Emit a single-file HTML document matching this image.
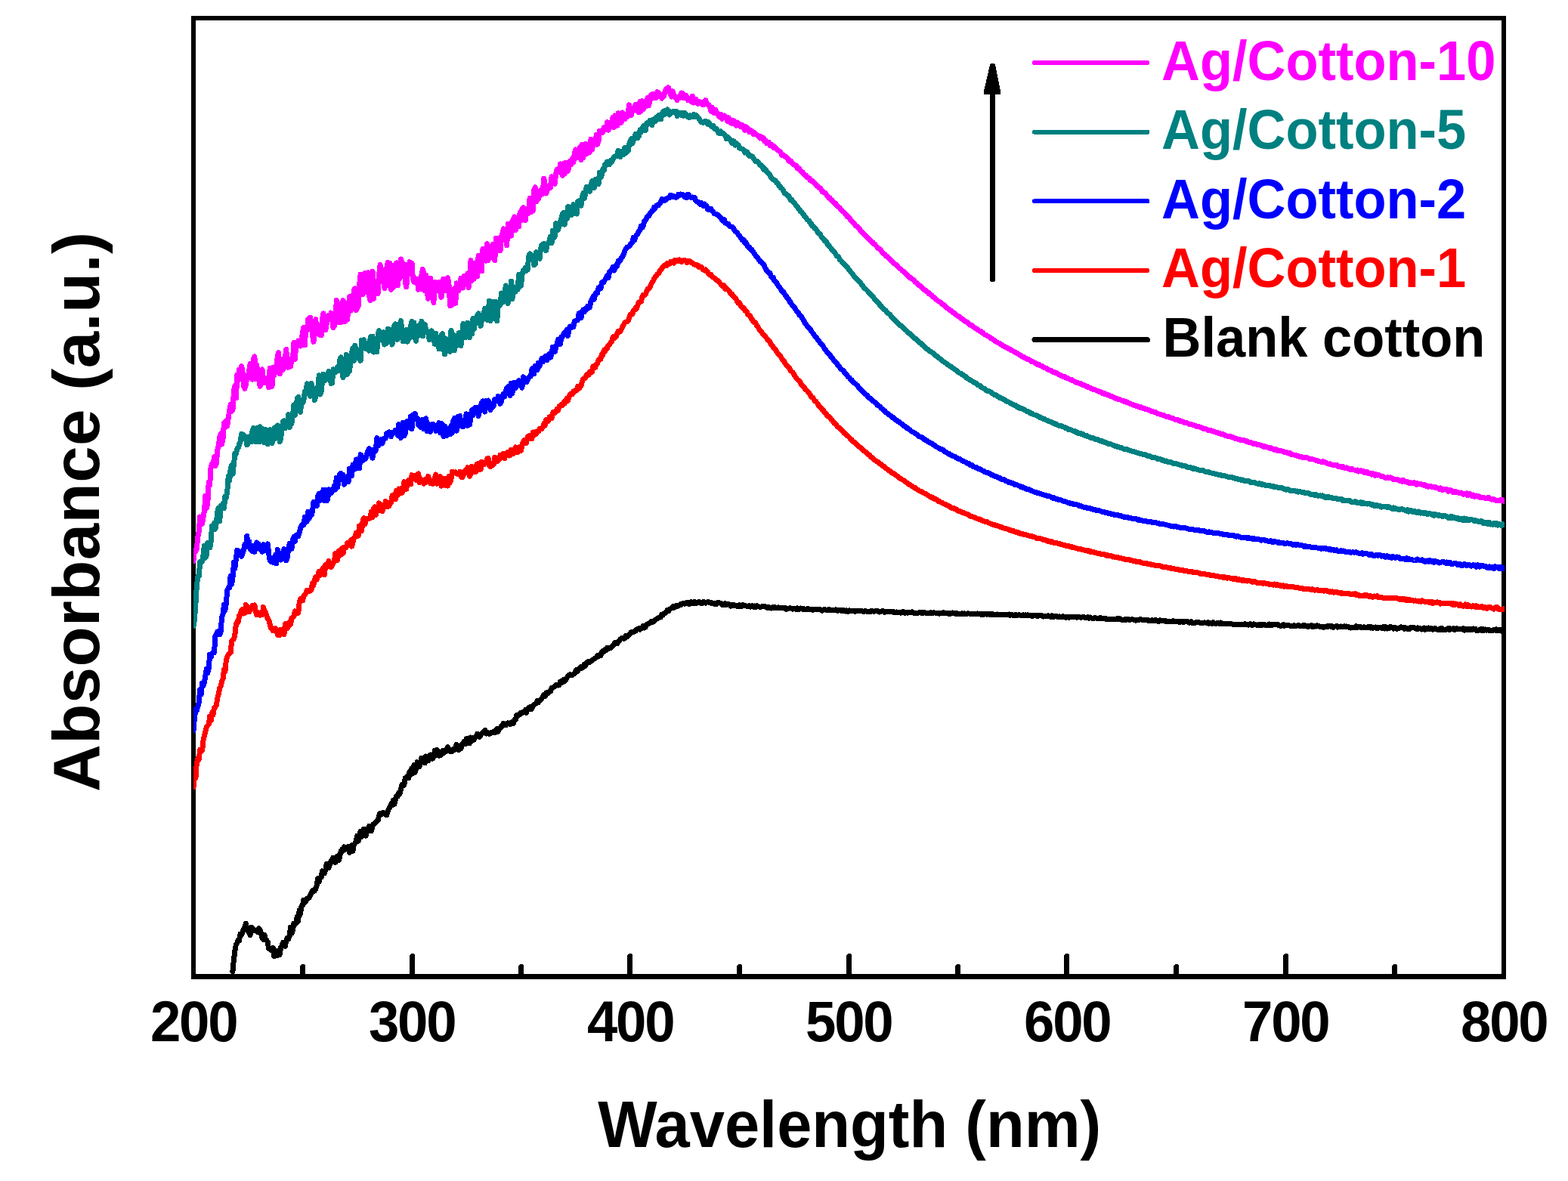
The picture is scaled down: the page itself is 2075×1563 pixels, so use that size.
<!DOCTYPE html>
<html lang="en">
<head>
<meta charset="utf-8">
<title>UV-vis absorbance spectra</title>
<style>
html,body{margin:0;padding:0;background:#fff;}
body{width:2075px;height:1563px;overflow:hidden;}
svg{display:block;}
text{font-family:"Liberation Sans",Arial,Helvetica,sans-serif;font-weight:bold;}
.tick{font-size:76px;text-anchor:middle;letter-spacing:-2.4px;}
.leg{font-size:75px;}
.ttl{font-size:87px;text-anchor:middle;}
.yt{letter-spacing:0.4px;}
.c{fill:none;stroke-width:7;shape-rendering:crispEdges;stroke-linejoin:round;stroke-linecap:round;}
</style>
</head>
<body>
<svg width="2075" height="1563" viewBox="0 0 2075 1563">
<rect x="0" y="0" width="2075" height="1563" fill="#fff"/>
<defs><clipPath id="plot"><rect x="256" y="24" width="1735" height="1268"/></clipPath></defs>
<path d="M253 20.7H1993V1295.9H253ZM259 27V1289.2H1987V27Z" fill="#000" fill-rule="evenodd" shape-rendering="crispEdges"/>
<g clip-path="url(#plot)">
<path class="c" stroke="#000" d="M307.9 1285.6 309.4 1270.3 310.8 1259 312.3 1250.3 313.7 1248.2 315.2 1244 316.6 1244.7 318 1236.1 319.5 1237.2 320.9 1234.2 322.4 1229.7 323.8 1227.1 325.3 1222.1 326.7 1228.6 328.2 1231.8 329.6 1234.8 331 1237.6 332.5 1227.1 333.9 1228.6 335.4 1231.3 336.8 1230.6 338.3 1231.3 339.7 1231.6 341.2 1233.6 342.6 1228.8 344.1 1230.7 345.5 1235 346.9 1241.5 348.4 1243.5 349.8 1237.2 351.3 1242 352.7 1244.5 354.2 1246.5 355.6 1255.6 357.1 1256.2 358.5 1257.2 359.9 1254.7 361.4 1254.7 362.8 1265.5 364.3 1264.6 365.7 1259 367.2 1264.6 368.6 1258.3 370.1 1263.7 371.5 1253.9 373 1251.7 374.4 1247.6 375.8 1251.5 377.3 1252.5 378.7 1245.7 380.2 1241.1 381.6 1242.9 383.1 1239 384.5 1227.4 386 1235.4 387.4 1231.8 388.8 1222.1 390.3 1223.2 391.7 1221.5 393.2 1213.3 394.6 1219.2 396.1 1204.9 397.5 1209.9 399 1199.3 400.4 1198.7 401.9 1191.3 403.3 1194.7 404.7 1192.4 406.2 1189.2 407.6 1188.8 409.1 1188.2 410.5 1185.2 412 1182.1 413.4 1178.5 414.9 1177.7 416.3 1179 417.7 1176.9 419.2 1172 420.6 1162.6 422.1 1167.2 423.5 1161.6 425 1161.4 426.4 1152.8 427.9 1156.1 429.3 1156 430.8 1151.2 432.2 1143.5 433.6 1146.1 435.1 1148.7 436.5 1143.8 438 1139.5 439.4 1141 440.9 1135.2 442.3 1140.1 443.8 1141.4 445.2 1135.6 446.6 1133.1 448.1 1138.8 449.5 1134.5 451 1127.2 452.4 1124.4 453.9 1126.2 455.3 1120.8 456.8 1124.3 458.2 1123.8 459.7 1121.8 461.1 1120.5 462.5 1128.3 464 1121.5 465.4 1118.9 466.9 1126.4 468.3 1118.3 469.8 1115.9 471.2 1113.7 472.7 1106.2 474.1 1113.4 475.5 1109.3 477 1100.6 478.4 1107.4 479.9 1104.3 481.3 1097.2 482.8 1097.3 484.2 1106.1 485.7 1097.8 487.1 1100 488.6 1093.1 490 1097.9 491.4 1099.8 492.9 1093.8 494.3 1090.6 495.8 1089.4 497.2 1088.7 498.7 1086.6 500.1 1085.8 501.6 1079.6 503 1076.2 504.4 1076.6 505.9 1077.3 507.3 1075.4 508.8 1076.9 510.2 1077.9 511.7 1078.9 513.1 1073.9 514.6 1070.2 516 1068.2 517.5 1064.3 518.9 1065.6 520.3 1059 521.8 1064.5 523.2 1058.8 524.7 1053.7 526.1 1054 527.6 1049.3 529 1050.9 530.5 1045.2 531.9 1038.5 533.3 1038.4 534.8 1039.1 536.2 1029.8 537.7 1029.8 539.1 1027.4 540.6 1029.8 542 1021.8 543.5 1025.5 544.9 1017.1 546.4 1023.8 547.8 1012.8 549.2 1022.3 550.7 1016.9 552.1 1008.6 553.6 1013.7 555 1014.7 556.5 1009.6 557.9 1003.3 559.4 1005.1 560.8 1003.2 562.2 1010 563.7 1001 565.1 1002.5 566.6 1006.7 568 1003.1 569.5 999 570.9 999.3 572.4 1004.2 573.8 1002.2 575.3 993.3 576.7 999.1 578.1 992.1 579.6 994.3 581 1000.3 582.5 997.8 583.9 999 585.4 993.7 586.8 996.6 588.3 993.5 589.7 994.5 591.1 991 592.6 988.6 594 991.6 595.5 994.2 596.9 994.6 598.4 994.7 599.8 991.4 601.3 992.3 602.7 989.3 604.2 985.4 605.6 990.8 607 992.5 608.5 990.2 609.9 990.6 611.4 984.6 612.8 984.3 614.3 981.1 615.7 984.7 617.2 977.7 618.6 981.8 620 977.4 621.5 983.9 622.9 976 624.4 980.6 625.8 976.8 627.3 978.9 628.7 975.5 630.2 974.1 631.6 971.2 633.1 974 634.5 975.1 635.9 973.2 637.4 970.5 638.8 969.9 640.3 968.8 641.7 966.4 643.2 971 644.6 969.2 646.1 970.3 647.5 971.4 648.9 970.6 650.4 969.3 651.8 969.6 653.3 968.2 654.7 969.8 656.2 966.2 657.6 964.3 659.1 968.2 660.5 964.6 662 963.8 663.4 961 664.8 961.2 666.3 957.4 667.7 959.8 669.2 960 670.6 957.6 672.1 956.8 673.5 957.8 675 958.7 676.4 956 677.8 957.5 679.3 957.5 680.7 952.9 682.2 952.5 683.6 946.8 685.1 947.4 686.5 945.7 688 945.5 689.4 943.3 690.9 943.6 692.3 942.4 693.7 942.6 695.2 939.7 696.6 943.3 698.1 938.3 699.5 936.5 701 938.4 702.4 935.2 703.9 938 705.3 934.2 706.7 932.7 708.2 931.6 709.6 930.6 711.1 927.3 712.5 929.7 714 927.6 715.4 925.8 716.9 924.7 718.3 921.9 719.8 919.7 721.2 921.4 722.6 917.3 724.1 916.1 725.5 917.1 727 915 728.4 915.2 729.9 910.6 731.3 910.1 732.8 909.3 734.2 908.7 735.6 906.7 737.1 906 738.5 907.1 740 906.4 741.4 901.8 742.9 901.6 744.3 902.9 745.8 899.7 747.2 901.3 748.7 900 750.1 897 751.5 895.2 753 893.4 754.4 892.7 755.9 893.9 757.3 893.4 758.8 892.4 760.2 891.5 761.7 888 763.1 886.5 764.5 888.2 766 885.4 767.4 884 768.9 882.6 770.3 884.1 771.8 882.5 773.2 879.1 774.7 881.4 776.1 877 777.6 876 779 875.9 780.4 876.2 781.9 875.2 783.3 873.9 784.8 872.8 786.2 872.1 787.7 871.2 789.1 870.2 790.6 867.6 792 868.5 793.4 867.3 794.9 867.6 796.3 863.1 797.8 861.6 799.2 862.6 800.7 859.8 802.1 860.7 803.6 857.2 805 858.9 806.5 857.7 807.9 858 809.3 856 810.8 854.8 812.2 853.6 813.7 850.5 815.1 850.3 816.6 851.6 818 849.8 819.5 848.2 820.9 845.7 822.3 845.2 823.8 844.1 825.2 845.4 826.7 844.6 828.1 841.1 829.6 842.8 831 841.7 832.5 839.5 833.9 838.3 835.4 836.5 836.8 836.9 838.2 836.3 839.7 835.6 841.1 835.3 842.6 832.8 844 832.8 845.5 831.6 846.9 833 848.4 830.9 849.8 831.2 851.2 828.6 852.7 830.9 854.1 830.1 855.6 826.6 857 826.1 858.5 825.3 859.9 825 861.4 822.9 862.8 823.7 864.3 822.1 865.7 822.2 867.1 820.4 868.6 819.4 870 818.5 871.5 817.8 872.9 816.7 874.4 816.9 875.8 813.2 877.3 814 878.7 811.9 880.1 811.4 881.6 809.8 883 807.8 884.5 808.8 885.9 806.9 887.4 805.6 888.8 805 890.3 802.9 891.7 804.5 893.2 802.1 894.6 801.6 896 802.6 897.5 801.8 898.9 801.3 900.4 799.7 901.8 800.2 903.3 798.5 904.7 798.4 906.2 799.2 907.6 798 909 797.5 910.5 797.6 911.9 799.5 913.4 799 914.8 796.8 916.3 798 917.7 798.6 919.2 796.4 920.6 798.6 922.1 797.4 923.5 797.7 924.9 796.3 926.4 796.9 927.8 798.3 929.3 798.4 930.7 796.6 932.2 796.9 933.6 798.1 935.1 797.1 936.5 796.6 937.9 796.6 939.4 797.7 940.8 797.4 942.3 798.8 943.7 798.2 945.2 799.4 946.6 798.6 948.1 799.4 949.5 797.5 951 797.7 952.4 797.9 953.8 798.5 955.3 799.2 956.7 800.9 958.2 800.2 959.6 798.9 961.1 800.8 962.5 799.6 964 799.4 965.4 800.3 966.8 802 968.3 800.7 969.7 801.2 971.2 800.7 972.6 801.7 974.1 801.1 975.5 802.2 977 802.2 978.4 800.8 979.9 802.8 981.3 802.5 982.7 800.7 984.2 800.8 985.6 801.7 987.1 801.9 988.5 802.3 990 802.2 991.4 801.7 992.9 803.1 994.3 802.8 995.7 801.6 997.2 803.3 998.6 802 1000.1 803.8 1001.5 801.8 1003 802.9 1004.4 802.9 1005.9 803.5 1007.3 803.2 1008.8 802.3 1010.2 802.9 1011.6 802.6 1013.1 802.9 1014.5 803.8 1016 804.9 1017.4 803.3 1018.9 804.7 1020.3 805.1 1021.8 804.5 1023.2 803.5 1024.6 804.5 1026.1 803.8 1027.5 804.7 1029 805 1030.4 803.9 1031.9 804.8 1033.3 804.1 1034.8 805 1036.2 804.4 1037.7 805.1 1039.1 804.7 1040.5 806.2 1042 805.3 1043.4 805.4 1044.9 804.9 1046.3 805 1047.8 805.3 1049.2 806.1 1050.7 805.2 1052.1 805.1 1053.5 806.5 1055 805 1056.4 806.6 1057.9 806.3 1059.3 804.9 1060.8 805.1 1062.2 806.2 1063.7 805.5 1065.1 806.8 1066.6 806.3 1068 806.5 1069.4 805.4 1070.9 806.4 1072.3 806.8 1073.8 806.3 1075.2 807.4 1076.7 806.5 1078.1 806.9 1079.6 806.9 1081 806.7 1082.4 806.7 1083.9 806.6 1085.3 806.3 1086.8 807.3 1088.2 808.2 1089.7 806.8 1091.1 806.7 1092.6 807.1 1094 807.5 1095.5 807.4 1096.9 806.6 1098.3 807.4 1099.8 807.5 1101.2 807 1102.7 807.6 1104.1 807.8 1105.6 806.9 1107 807.9 1108.5 808.4 1109.9 807.7 1111.3 807.7 1112.8 807.4 1114.2 808.7 1115.7 807.6 1117.1 807.7 1118.6 809 1120 807.9 1121.5 809.3 1122.9 809.3 1124.4 807.9 1125.8 808.6 1127.2 808.4 1128.7 808.5 1130.1 808 1131.6 809.2 1133 808.8 1134.5 808.3 1135.9 808.7 1137.4 808.2 1138.8 809 1140.2 808.9 1141.7 808.9 1143.1 809.8 1144.6 808.4 1146 808.9 1147.5 809.2 1148.9 809.1 1150.4 809.2 1151.8 809.9 1153.3 808.3 1154.7 808.6 1156.1 809.2 1157.6 809.1 1159 808.5 1160.5 809 1161.9 808.8 1163.4 810 1164.8 809.4 1166.3 809 1167.7 808.9 1169.1 808.8 1170.6 810.4 1172 809.5 1173.5 809.1 1174.9 809.8 1176.4 809.7 1177.8 809.7 1179.3 809.8 1180.7 809.4 1182.2 810.4 1183.6 809.9 1185 810.8 1186.5 809.9 1187.9 810.5 1189.4 810.8 1190.8 810.3 1192.3 811.1 1193.7 810.3 1195.2 809.5 1196.6 811.2 1198 811.1 1199.5 810.5 1200.9 811.2 1202.4 810.5 1203.8 811 1205.3 810.7 1206.7 809.9 1208.2 810.3 1209.6 811.2 1211.1 811.2 1212.5 811.2 1213.9 811.1 1215.4 811.2 1216.8 810.4 1218.3 810.2 1219.7 811.6 1221.2 810.5 1222.6 811.1 1224.1 810.8 1225.5 811.3 1226.9 811.6 1228.4 811.7 1229.8 812 1231.3 810.7 1232.7 811 1234.2 811.7 1235.6 810.8 1237.1 811 1238.5 811 1240 811.3 1241.4 811.7 1242.8 812.1 1244.3 811.8 1245.7 811.4 1247.2 811.7 1248.6 810.7 1250.1 811.3 1251.5 811.9 1253 811.1 1254.4 812.1 1255.8 811.2 1257.3 812.6 1258.7 811.7 1260.2 811 1261.6 811.2 1263.1 811.7 1264.5 812.4 1266 811.6 1267.4 812.6 1268.9 812.8 1270.3 812.4 1271.7 812.8 1273.2 811.8 1274.6 812.2 1276.1 811.9 1277.5 812.8 1279 812.6 1280.4 811.9 1281.9 812 1283.3 812 1284.7 812.8 1286.2 812.1 1287.6 813 1289.1 812.6 1290.5 812.6 1292 812.4 1293.4 812 1294.9 813 1296.3 812.3 1297.8 813.2 1299.2 812.2 1300.6 813.6 1302.1 812.6 1303.5 812.3 1305 813 1306.4 813.2 1307.9 812.3 1309.3 813.3 1310.8 812.4 1312.2 813.3 1313.6 812.6 1315.1 813.9 1316.5 813.6 1318 813.2 1319.4 813 1320.9 813.3 1322.3 813.3 1323.8 813.7 1325.2 813.7 1326.7 813.1 1328.1 813.6 1329.5 813.1 1331 813.9 1332.4 814 1333.9 813.6 1335.3 813 1336.8 814.4 1338.2 813.6 1339.7 813.9 1341.1 814.5 1342.5 814.3 1344 813.6 1345.4 814.4 1346.9 814.2 1348.3 813.7 1349.8 814.2 1351.2 814.3 1352.7 814.2 1354.1 813.8 1355.6 814.8 1357 813.7 1358.4 814.7 1359.9 813.8 1361.3 814.3 1362.8 814.2 1364.2 814.2 1365.7 815.5 1367.1 815.2 1368.6 814.1 1370 814.4 1371.4 814.7 1372.9 815.8 1374.3 814.6 1375.8 815 1377.2 814.7 1378.7 814.5 1380.1 816 1381.6 815.2 1383 815.1 1384.5 815.4 1385.9 815.2 1387.3 814.9 1388.8 815.5 1390.2 816.2 1391.7 814.9 1393.1 816.5 1394.6 816.5 1396 815.6 1397.5 815.2 1398.9 815.9 1400.3 816.5 1401.8 815.8 1403.2 816.8 1404.7 816.1 1406.1 815.7 1407.6 816.2 1409 816.1 1410.5 817.2 1411.9 816.2 1413.4 816.8 1414.8 817.3 1416.2 816.8 1417.7 816.1 1419.1 816.6 1420.6 817 1422 816.9 1423.5 816.2 1424.9 817.1 1426.4 816.8 1427.8 816.5 1429.2 816.9 1430.7 817.2 1432.1 817 1433.6 816.4 1435 817.2 1436.5 818 1437.9 817.6 1439.4 816.7 1440.8 818.1 1442.3 817 1443.7 818 1445.1 818.1 1446.6 818.7 1448 818 1449.5 817.6 1450.9 818 1452.4 818.6 1453.8 819 1455.3 817.7 1456.7 817.7 1458.1 818.8 1459.6 818.7 1461 818.6 1462.5 818.1 1463.9 819.5 1465.4 819.2 1466.8 819.6 1468.3 819.2 1469.7 819.1 1471.2 819.3 1472.6 819.6 1474 819.6 1475.5 819.4 1476.9 819.8 1478.4 818.7 1479.8 819.9 1481.3 818.6 1482.7 819.4 1484.2 820.3 1485.6 820.4 1487 820.2 1488.5 819.8 1489.9 820.7 1491.4 819.7 1492.8 819.2 1494.3 820.2 1495.7 820.3 1497.2 819.7 1498.6 819.8 1500.1 820.2 1501.5 820.8 1502.9 821.2 1504.4 820.9 1505.8 820.9 1507.3 820.6 1508.7 819.7 1510.2 820 1511.6 820.5 1513.1 820.6 1514.5 820.8 1515.9 820.3 1517.4 820.5 1518.8 820.2 1520.3 821.7 1521.7 821.6 1523.2 821.1 1524.6 820.5 1526.1 821.6 1527.5 821.9 1529 820.6 1530.4 821.5 1531.8 821.6 1533.3 822.5 1534.7 820.9 1536.2 821.1 1537.6 821.4 1539.1 821.7 1540.5 821.7 1542 821.2 1543.4 822.8 1544.8 822.2 1546.3 822.6 1547.7 822.3 1549.2 822.2 1550.6 822.8 1552.1 821.9 1553.5 822 1555 822.3 1556.4 822.7 1557.9 822.8 1559.3 822.6 1560.7 823.5 1562.2 822.9 1563.6 822.1 1565.1 823.2 1566.5 823.4 1568 822.5 1569.4 822.8 1570.9 822.7 1572.3 823 1573.7 824.1 1575.2 823.1 1576.6 822.8 1578.1 824.5 1579.5 824.6 1581 824 1582.4 824.1 1583.9 823.1 1585.3 823.1 1586.8 823.9 1588.2 824.1 1589.6 824.4 1591.1 824.2 1592.5 824.2 1594 823.8 1595.4 824.1 1596.9 824.6 1598.3 823.8 1599.8 825.3 1601.2 824.4 1602.6 825 1604.1 825.4 1605.5 823.9 1607 825 1608.4 825.1 1609.9 825.2 1611.3 824.5 1612.8 824.1 1614.2 825.8 1615.7 824.1 1617.1 825.6 1618.5 825.3 1620 825.8 1621.4 825 1622.9 825 1624.3 825.2 1625.8 825.1 1627.2 825.9 1628.7 825.5 1630.1 825.9 1631.5 826.2 1633 826.1 1634.4 826.2 1635.9 826.1 1637.3 826.2 1638.8 826.2 1640.2 826.9 1641.7 826.8 1643.1 826.3 1644.6 826.6 1646 826.8 1647.4 825.6 1648.9 826.5 1650.3 826.4 1651.8 827.1 1653.2 826.3 1654.7 825.6 1656.1 827.3 1657.6 827.3 1659 825.9 1660.4 826.2 1661.9 826.9 1663.3 827.4 1664.8 826.8 1666.2 827.6 1667.7 826.4 1669.1 827.6 1670.6 827.2 1672 826.4 1673.5 826.5 1674.9 827.4 1676.3 827.7 1677.8 827.4 1679.2 826.1 1680.7 827.8 1682.1 826.9 1683.6 827.3 1685 826.6 1686.5 827 1687.9 826.4 1689.3 826.4 1690.8 826.4 1692.2 827.6 1693.7 828.2 1695.1 828 1696.6 828 1698 826.7 1699.5 828.2 1700.9 827.6 1702.4 827.5 1703.8 827 1705.2 827.6 1706.7 828 1708.1 828.8 1709.6 828.7 1711 828.9 1712.5 827.6 1713.9 828.3 1715.4 828.1 1716.8 828.1 1718.2 827.3 1719.7 828.6 1721.1 828.7 1722.6 828.6 1724 828.5 1725.5 827.3 1726.9 827.8 1728.4 828.7 1729.8 828.7 1731.3 829.5 1732.7 828.8 1734.1 828 1735.6 827.8 1737 829.7 1738.5 829.5 1739.9 828.2 1741.4 829 1742.8 827.8 1744.3 828.9 1745.7 828.7 1747.1 829.4 1748.6 829.9 1750 829 1751.5 830.2 1752.9 829.8 1754.4 829.5 1755.8 828.8 1757.3 829.8 1758.7 828.2 1760.2 828.1 1761.6 829.7 1763 828.8 1764.5 830.5 1765.9 829 1767.4 829 1768.8 828.4 1770.3 830.2 1771.7 829.5 1773.2 829.7 1774.6 828.9 1776 829.4 1777.5 829.7 1778.9 828.7 1780.4 829.3 1781.8 829 1783.3 829.1 1784.7 829.8 1786.2 830.8 1787.6 831.1 1789.1 830.8 1790.5 830.4 1791.9 830.6 1793.4 830.1 1794.8 828.8 1796.3 830.5 1797.7 829.3 1799.2 829 1800.6 830.7 1802.1 830.5 1803.5 830.2 1804.9 829.9 1806.4 830.8 1807.8 830.6 1809.3 831 1810.7 829.6 1812.2 829.2 1813.6 831 1815.1 830 1816.5 831.4 1818 830.6 1819.4 830.3 1820.8 830 1822.3 831.8 1823.7 831.4 1825.2 830.2 1826.6 830.9 1828.1 831.2 1829.5 831.9 1831 829.8 1832.4 831.9 1833.8 829.8 1835.3 831.9 1836.7 830.6 1838.2 831.8 1839.6 829.7 1841.1 829.9 1842.5 830.3 1844 832 1845.4 830.3 1846.9 830.9 1848.3 832.3 1849.7 831.3 1851.2 831 1852.6 831.1 1854.1 829.9 1855.5 830.7 1857 830.9 1858.4 832.4 1859.9 830.8 1861.3 831.8 1862.7 832.4 1864.2 831.5 1865.6 832.2 1867.1 830.6 1868.5 830.3 1870 830.5 1871.4 830.5 1872.9 831 1874.3 832.4 1875.8 830.9 1877.2 832.1 1878.6 831.4 1880.1 832.1 1881.5 833.1 1883 832.1 1884.4 831.1 1885.9 833.2 1887.3 831.2 1888.8 832.6 1890.2 831.1 1891.6 832.6 1893.1 833 1894.5 831.8 1896 833.2 1897.4 832.1 1898.9 831.3 1900.3 832.5 1901.8 833 1903.2 833.5 1904.7 832.3 1906.1 833.7 1907.5 831.3 1909 833.3 1910.4 833.4 1911.9 833.2 1913.3 833.5 1914.8 832.7 1916.2 831.9 1917.7 833.8 1919.1 831.7 1920.5 832.8 1922 832.2 1923.4 831.5 1924.9 833.4 1926.3 833.2 1927.8 831.8 1929.2 832.6 1930.7 833 1932.1 832.2 1933.6 832.8 1935 832.4 1936.4 831.7 1937.9 834.1 1939.3 832.5 1940.8 832.1 1942.2 833.9 1943.7 832.6 1945.1 833.3 1946.6 832.7 1948 833.7 1949.4 832 1950.9 832.1 1952.3 832 1953.8 834.6 1955.2 834.4 1956.7 834.2 1958.1 833.8 1959.6 832.3 1961 834.6 1962.5 832.7 1963.9 834.4 1965.3 833 1966.8 834.1 1968.2 833.3 1969.7 833.3 1971.1 834.6 1972.6 834.3 1974 834.6 1975.5 834.6 1976.9 833.1 1978.3 834 1979.8 832.9 1981.2 834.8 1982.7 834 1984.1 833.1 1985.6 833.3 1987 835.2 1988.5 834.8 1989.9 835.1"/>
<path class="c" stroke="#f00" d="M256 1041.5 257.4 1028 258.9 1030 260.3 1010.3 261.8 1003.8 263.2 1005.4 264.7 992.1 266.1 994.6 267.6 993.5 269 980 270.4 973.7 271.9 968.3 273.3 962.3 274.8 960.2 276.2 958.8 277.7 948 279.1 953.9 280.6 943.5 282 946.2 283.5 936.7 284.9 935.7 286.3 933.2 287.8 923.9 289.2 918.5 290.7 910.8 292.1 908.3 293.6 901.5 295 898.6 296.5 885.8 297.9 889.1 299.3 874.2 300.8 869.1 302.2 866.1 303.7 864.8 305.1 864 306.6 848.3 308 847 309.5 845.6 310.9 839.3 312.4 826.3 313.8 822.9 315.2 823.3 316.7 814.3 318.1 813.1 319.6 807.7 321 806.2 322.5 812 323.9 811.5 325.4 800.6 326.8 801.9 328.2 804.9 329.7 809.7 331.1 805.3 332.6 806.5 334 801.1 335.5 801.8 336.9 801 338.4 809 339.8 813.7 341.3 810.5 342.7 813.3 344.1 814.3 345.6 813.2 347 813.8 348.5 803.4 349.9 807.9 351.4 810.6 352.8 814.8 354.3 818.9 355.7 820.6 357.1 826.3 358.6 831.5 360 831.1 361.5 834.9 362.9 833.2 364.4 831.7 365.8 834.6 367.3 839.9 368.7 841 370.2 840.7 371.6 833.1 373 834.4 374.5 837.6 375.9 839.8 377.4 825.5 378.8 825.2 380.3 831.7 381.7 828.5 383.2 823 384.6 826.2 386 817.8 387.5 816.9 388.9 815.2 390.4 808.8 391.8 812.5 393.3 809.6 394.7 811.3 396.2 797.3 397.6 792.7 399.1 793.2 400.5 794.8 401.9 788.8 403.4 787.1 404.8 785 406.3 781.2 407.7 781.7 409.2 782.5 410.6 781.9 412.1 780.6 413.5 771.6 414.9 774.8 416.4 766.7 417.8 763.6 419.3 767.2 420.7 762.2 422.2 756.1 423.6 761.3 425.1 755.6 426.5 753.4 428 751.5 429.4 760.9 430.8 747.4 432.3 750.2 433.7 745.1 435.2 742.5 436.6 750.1 438.1 750.6 439.5 747.9 441 745.8 442.4 742.5 443.8 732.6 445.3 738.2 446.7 741.2 448.2 729 449.6 728.9 451.1 734.4 452.5 725.9 454 732.4 455.4 724.1 456.9 725.3 458.3 723.8 459.7 718.5 461.2 720.5 462.6 719.4 464.1 714.9 465.5 723.1 467 718.2 468.4 712.3 469.9 711 471.3 705.1 472.7 709.8 474.2 709.2 475.6 696 477.1 701.7 478.5 702.7 480 690.2 481.4 685.7 482.9 693.9 484.3 686.8 485.8 686.6 487.2 686.8 488.6 686.6 490.1 684.7 491.5 677.2 493 684.6 494.4 673.3 495.9 671 497.3 681.4 498.8 674.3 500.2 676.2 501.6 665.9 503.1 669.7 504.5 671.7 506 676.9 507.4 668.6 508.9 671.1 510.3 663.4 511.8 670.5 513.2 669.7 514.7 670.1 516.1 667.2 517.5 665.2 519 655.9 520.4 658.6 521.9 654.6 523.3 660.9 524.8 649.3 526.2 655.4 527.7 647 529.1 653.4 530.5 646.7 532 652.2 533.4 647.3 534.9 637.8 536.3 638.3 537.8 647.4 539.2 638.1 540.7 635.5 542.1 640.6 543.6 640.7 545 628.8 546.4 629.8 547.9 629.5 549.3 633.9 550.8 635.8 552.2 630.6 553.7 626.9 555.1 638.8 556.6 633.8 558 634.9 559.4 638.1 560.9 640.1 562.3 638.8 563.8 634.2 565.2 637.2 566.7 630.4 568.1 636.2 569.6 639.9 571 639.5 572.5 640.2 573.9 637.2 575.3 633 576.8 628 578.2 640.1 579.7 639.7 581.1 632 582.6 630.6 584 643.1 585.5 634.4 586.9 640.8 588.3 633.1 589.8 642.4 591.2 638.1 592.7 643.1 594.1 630.3 595.6 638.7 597 633.9 598.5 624.1 599.9 625.6 601.4 625.3 602.8 624.9 604.2 627 605.7 627.4 607.1 627.7 608.6 624.3 610 630.4 611.5 631.8 612.9 629.2 614.4 627.5 615.8 622.6 617.2 624.2 618.7 618.8 620.1 620.5 621.6 630.5 623 626 624.5 617.3 625.9 624.9 627.4 624.9 628.8 617.8 630.3 624.2 631.7 613.9 633.1 618.6 634.6 613.5 636 621.4 637.5 611.3 638.9 614.3 640.4 614.8 641.8 612.4 643.3 611.8 644.7 606.9 646.1 606.8 647.6 616.7 649 617.5 650.5 615.4 651.9 615.6 653.4 614.1 654.8 605.3 656.3 608.3 657.7 610.6 659.2 609.3 660.6 608.3 662 602.1 663.5 605.3 664.9 602.9 666.4 600.3 667.8 606.6 669.3 600.1 670.7 599.5 672.2 598.2 673.6 603.1 675 602.4 676.5 595.1 677.9 599.5 679.4 600.2 680.8 598.9 682.3 591.8 683.7 598.9 685.2 598.7 686.6 595.6 688.1 591.2 689.5 596.2 690.9 589.2 692.4 584.9 693.8 582.7 695.3 586.9 696.7 585.6 698.2 578.1 699.6 577.1 701.1 580.6 702.5 576.2 703.9 580.7 705.4 572 706.8 575.9 708.3 571.9 709.7 574.2 711.2 571.2 712.6 571.1 714.1 567.4 715.5 567.8 717 567.7 718.4 564.9 719.8 560.8 721.3 563.2 722.7 555.7 724.2 557.8 725.6 557.3 727.1 551.7 728.5 553.5 730 553.7 731.4 546.6 732.8 545.1 734.3 546.2 735.7 544.4 737.2 541.3 738.6 543.4 740.1 537.6 741.5 537.7 743 535.6 744.4 536.6 745.9 532.7 747.3 534 748.7 529.9 750.2 527.4 751.6 530.4 753.1 525 754.5 521.7 756 521.8 757.4 521.9 758.9 517.8 760.3 518.5 761.7 516.9 763.2 516.8 764.6 511.2 766.1 514.1 767.5 512.5 769 510.2 770.4 504.9 771.9 501.2 773.3 500.8 774.8 500.1 776.2 496 777.6 496.7 779.1 496.2 780.5 491.9 782 492.3 783.4 492.4 784.9 484.9 786.3 485.1 787.8 486.3 789.2 482.4 790.6 480.7 792.1 476.2 793.5 474.8 795 475.1 796.4 468.8 797.9 469.4 799.3 463.5 800.8 465 802.2 460.6 803.7 460.8 805.1 456.8 806.5 456.5 808 453.4 809.4 452.3 810.9 446.8 812.3 445.2 813.8 447.1 815.2 445.6 816.7 441.1 818.1 438.7 819.5 439.3 821 438.7 822.4 435.7 823.9 432.2 825.3 429.8 826.8 427 828.2 426.2 829.7 425.7 831.1 424.9 832.6 420.9 834 416.7 835.4 415.4 836.9 415.7 838.3 411 839.8 410.5 841.2 407.2 842.7 408.2 844.1 402.8 845.6 400 847 399.3 848.4 399.3 849.9 393.1 851.3 390.5 852.8 390.6 854.2 389.8 855.7 385.5 857.1 382.2 858.6 382.5 860 380.6 861.5 376.5 862.9 373.9 864.3 372 865.8 368.5 867.2 366.4 868.7 364.7 870.1 362.6 871.6 362.1 873 359 874.5 356.6 875.9 355.4 877.3 352.8 878.8 352 880.2 350.8 881.7 351.7 883.1 348.2 884.6 350.1 886 349.3 887.5 346.3 888.9 347.6 890.4 347 891.8 348 893.2 344.3 894.7 345.9 896.1 344.8 897.6 345.8 899 343.9 900.5 345.2 901.9 346.5 903.4 345 904.8 344.9 906.2 344.4 907.7 345 909.1 347.4 910.6 345.2 912 345.4 913.5 346.1 914.9 347.5 916.4 347.9 917.8 349.8 919.3 350.3 920.7 350.5 922.1 350.4 923.6 351.4 925 353.4 926.5 353.9 927.9 353.3 929.4 355.3 930.8 357.3 932.3 357.5 933.7 356.9 935.1 359.2 936.6 360 938 362.7 939.5 363.7 940.9 363.4 942.4 366.3 943.8 367.1 945.3 368 946.7 369.2 948.2 371.1 949.6 371 951 372 952.5 374.5 953.9 376 955.4 377.9 956.8 379 958.3 378 959.7 382.4 961.2 381.5 962.6 382.9 964 384 965.5 385.7 966.9 388.9 968.4 388.8 969.8 391.4 971.3 393 972.7 393.6 974.2 395.7 975.6 399.1 977.1 401.3 978.5 400.8 979.9 404 981.4 406 982.8 407.3 984.3 407.7 985.7 411 987.2 411.6 988.6 413.4 990.1 417.1 991.5 417.1 992.9 418.6 994.4 422.6 995.8 423.4 997.3 426.4 998.7 426.1 1000.2 428 1001.6 430.9 1003.1 432.5 1004.5 435.7 1006 437.1 1007.4 439.1 1008.8 441 1010.3 442.5 1011.7 443.7 1013.2 446.1 1014.6 447.6 1016.1 450.3 1017.5 451.2 1019 452.7 1020.4 456.4 1021.8 456.7 1023.3 459.9 1024.7 460.8 1026.2 462.5 1027.6 464.9 1029.1 467.8 1030.5 468.7 1032 470.7 1033.4 472.3 1034.9 475.1 1036.3 476.8 1037.7 478.2 1039.2 481.1 1040.6 482.9 1042.1 484.5 1043.5 486 1045 487.8 1046.4 490.9 1047.9 491.9 1049.3 493.1 1050.7 495.5 1052.2 498 1053.6 500.3 1055.1 502.1 1056.5 503.4 1058 504.3 1059.4 506.8 1060.9 509.4 1062.3 511.2 1063.8 511.7 1065.2 514.4 1066.6 515.8 1068.1 517.1 1069.5 518.9 1071 520.8 1072.4 522.9 1073.9 525.4 1075.3 526.1 1076.8 528 1078.2 530.8 1079.6 531.3 1081.1 533.1 1082.5 535.1 1084 537.8 1085.4 538.6 1086.9 540.4 1088.3 542.4 1089.8 543.5 1091.2 546 1092.7 546.7 1094.1 549.2 1095.5 550.8 1097 551.5 1098.4 553 1099.9 555 1101.3 556 1102.8 558.5 1104.2 560.3 1105.7 560.8 1107.1 563 1108.5 564.8 1110 565.7 1111.4 566.9 1112.9 568.5 1114.3 570.4 1115.8 570.9 1117.2 573.4 1118.7 573.8 1120.1 575.9 1121.6 576.8 1123 578 1124.4 579.4 1125.9 581.6 1127.3 582.1 1128.8 584.1 1130.2 585.4 1131.7 585.9 1133.1 588 1134.6 588.6 1136 590.7 1137.4 591.3 1138.9 592.5 1140.3 594.2 1141.8 595.2 1143.2 596.8 1144.7 597.6 1146.1 598.7 1147.6 600.5 1149 601.7 1150.5 602.1 1151.9 604.1 1153.3 605.5 1154.8 605.9 1156.2 607.9 1157.7 608.8 1159.1 610 1160.6 611 1162 611.4 1163.5 613.4 1164.9 614 1166.3 614.7 1167.8 616.5 1169.2 617.4 1170.7 617.9 1172.1 619.7 1173.6 620.5 1175 621.3 1176.5 623.1 1177.9 623.5 1179.4 624.8 1180.8 625.9 1182.2 626.6 1183.7 627.5 1185.1 628.7 1186.6 629.5 1188 630.8 1189.5 631.6 1190.9 633 1192.4 633.8 1193.8 634.7 1195.2 635.2 1196.7 636.6 1198.1 637.6 1199.6 638.5 1201 639.1 1202.5 640.9 1203.9 641.6 1205.4 642.4 1206.8 643.4 1208.3 644.5 1209.7 645.3 1211.1 645.4 1212.6 646.7 1214 648 1215.5 648.9 1216.9 649.8 1218.4 650.1 1219.8 651.2 1221.3 651.4 1222.7 652.7 1224.1 653.1 1225.6 653.8 1227 655 1228.5 655.8 1229.9 656.7 1231.4 657.9 1232.8 657.6 1234.3 659.5 1235.7 659.4 1237.2 660.8 1238.6 660.8 1240 661.7 1241.5 663.3 1242.9 663.2 1244.4 664.4 1245.8 665.1 1247.3 665.3 1248.7 666.7 1250.2 667.3 1251.6 667.5 1253 668.3 1254.5 669.5 1255.9 669.6 1257.4 670.8 1258.8 671.9 1260.3 672.6 1261.7 672.3 1263.2 673.5 1264.6 673.7 1266.1 674.2 1267.5 675.9 1268.9 676.4 1270.4 676.4 1271.8 677.7 1273.3 678.1 1274.7 678.5 1276.2 679.2 1277.6 679.7 1279.1 680.1 1280.5 680.9 1281.9 681.4 1283.4 682.6 1284.8 683.3 1286.3 683.6 1287.7 684.2 1289.2 684.4 1290.6 685.4 1292.1 685.9 1293.5 686.5 1295 687.3 1296.4 687 1297.8 687.9 1299.3 688.6 1300.7 689.3 1302.2 690 1303.6 690.4 1305.1 690.8 1306.5 690.8 1308 691.9 1309.4 692.5 1310.8 693.2 1312.3 693.7 1313.7 694.1 1315.2 694 1316.6 694.7 1318.1 695.8 1319.5 695.7 1321 696 1322.4 697 1323.9 697.3 1325.3 697.4 1326.7 698.5 1328.2 699 1329.6 699.5 1331.1 699.7 1332.5 699.9 1334 700.6 1335.4 701.2 1336.9 701.5 1338.3 702.1 1339.7 702.7 1341.2 702.4 1342.6 703.9 1344.1 704.2 1345.5 703.9 1347 705.1 1348.4 704.9 1349.9 706.1 1351.3 706.1 1352.8 706.2 1354.2 706.9 1355.6 707.8 1357.1 707.8 1358.5 708 1360 708.2 1361.4 709 1362.9 709.7 1364.3 709.4 1365.8 709.7 1367.2 710.7 1368.6 710.8 1370.1 711.1 1371.5 712.2 1373 712.1 1374.4 712.7 1375.9 712.5 1377.3 713 1378.8 713.3 1380.2 714.3 1381.7 714.6 1383.1 714.7 1384.5 715.2 1386 716.2 1387.4 716 1388.9 716.4 1390.3 717.3 1391.8 716.8 1393.2 717.4 1394.7 718.5 1396.1 718.7 1397.5 718.7 1399 718.9 1400.4 719.1 1401.9 719.5 1403.3 720.5 1404.8 720.9 1406.2 720.9 1407.7 721.6 1409.1 721.5 1410.6 722.3 1412 722.7 1413.4 722.8 1414.9 722.9 1416.3 723.8 1417.8 723.4 1419.2 724.6 1420.7 724.1 1422.1 724.8 1423.6 725.1 1425 726 1426.4 726 1427.9 726.3 1429.3 726.2 1430.8 726.6 1432.2 727.5 1433.7 727.8 1435.1 728.3 1436.6 728.8 1438 728.3 1439.5 729.2 1440.9 728.9 1442.3 730.2 1443.8 729.9 1445.2 730.7 1446.7 730.8 1448.1 730.8 1449.6 731.7 1451 731.8 1452.5 732.4 1453.9 732.2 1455.3 732.5 1456.8 733.4 1458.2 733.5 1459.7 733.5 1461.1 733.7 1462.6 734.4 1464 735.1 1465.5 734.7 1466.9 735.8 1468.4 735.2 1469.8 735.6 1471.2 736.1 1472.7 737.1 1474.1 736.8 1475.6 737.6 1477 737.9 1478.5 737.7 1479.9 737.8 1481.4 738.9 1482.8 738.6 1484.2 739 1485.7 739.2 1487.1 739.6 1488.6 740.4 1490 740.3 1491.5 741 1492.9 740.9 1494.4 740.8 1495.8 741.6 1497.3 741.6 1498.7 742.1 1500.1 742.8 1501.6 742.5 1503 742.9 1504.5 743.7 1505.9 743.4 1507.4 743.5 1508.8 743.7 1510.3 744.6 1511.7 745.1 1513.1 745.5 1514.6 745.6 1516 745.5 1517.5 745.7 1518.9 746.6 1520.4 746.9 1521.8 746.5 1523.3 747.4 1524.7 747.4 1526.2 747.7 1527.6 747.9 1529 748.5 1530.5 748.1 1531.9 748.3 1533.4 748.5 1534.8 748.8 1536.3 749.1 1537.7 750.1 1539.2 750 1540.6 750.5 1542 750.5 1543.5 750.7 1544.9 751.1 1546.4 751.9 1547.8 751.4 1549.3 752.3 1550.7 752 1552.2 752.3 1553.6 752.6 1555.1 753.2 1556.5 753.2 1557.9 753.6 1559.4 753.6 1560.8 754.5 1562.3 754.7 1563.7 754.4 1565.2 754.6 1566.6 755.3 1568.1 755.7 1569.5 756 1570.9 755.9 1572.4 756.2 1573.8 756.3 1575.3 757 1576.7 756.6 1578.2 756.9 1579.6 757.8 1581.1 757.8 1582.5 757.8 1584 757.7 1585.4 757.9 1586.8 758.2 1588.3 759.2 1589.7 759.4 1591.2 759.1 1592.6 759.6 1594.1 759.4 1595.5 760.1 1597 760.2 1598.4 760.2 1599.8 760.3 1601.3 761.4 1602.7 761.7 1604.2 761.9 1605.6 761.4 1607.1 762 1608.5 762.3 1610 762.2 1611.4 762.7 1612.9 763.1 1614.3 763.3 1615.7 763.7 1617.2 763.3 1618.6 764.2 1620.1 763.7 1621.5 764.3 1623 765 1624.4 765.1 1625.9 764.6 1627.3 764.9 1628.7 765.5 1630.2 766 1631.6 766 1633.1 765.6 1634.5 766.9 1636 766 1637.4 767.3 1638.9 766.5 1640.3 767.7 1641.8 767.2 1643.2 768.1 1644.6 767.4 1646.1 768.5 1647.5 768.6 1649 768.2 1650.4 769.1 1651.9 768.4 1653.3 768.8 1654.8 769.2 1656.2 769.8 1657.6 770.2 1659.1 769.5 1660.5 769.6 1662 770.6 1663.4 771.2 1664.9 771.3 1666.3 771.4 1667.8 771.7 1669.2 771.2 1670.7 772.1 1672.1 772.1 1673.5 771.5 1675 772.1 1676.4 772.6 1677.9 772.3 1679.3 773.4 1680.8 773.1 1682.2 773.1 1683.7 773.2 1685.1 774.2 1686.5 773.1 1688 774.3 1689.4 774 1690.9 773.9 1692.3 774.5 1693.8 774.1 1695.2 775.6 1696.7 775.8 1698.1 774.8 1699.6 776.2 1701 775 1702.4 775.5 1703.9 776.9 1705.3 776.8 1706.8 776.1 1708.2 776 1709.7 776.1 1711.1 776.7 1712.6 777.1 1714 777.7 1715.4 777.3 1716.9 777.3 1718.3 778.1 1719.8 778 1721.2 778.3 1722.7 778.3 1724.1 779.3 1725.6 779.1 1727 779.6 1728.5 779.5 1729.9 779.1 1731.3 779.9 1732.8 779.9 1734.2 780.2 1735.7 779.9 1737.1 779.9 1738.6 781 1740 781.1 1741.5 781 1742.9 780.3 1744.3 781.1 1745.8 781.9 1747.2 781.1 1748.7 781.6 1750.1 781.3 1751.6 782.1 1753 781.9 1754.5 781.7 1755.9 781.9 1757.4 782.7 1758.8 782.3 1760.2 783.7 1761.7 783.5 1763.1 782.8 1764.6 784.1 1766 783.1 1767.5 783.3 1768.9 783.2 1770.4 784.2 1771.8 784.6 1773.2 784.1 1774.7 785.3 1776.1 784.7 1777.6 785.6 1779 785.4 1780.5 785.6 1781.9 785.2 1783.4 785.1 1784.8 785.1 1786.3 786.2 1787.7 786.9 1789.1 786.6 1790.6 786 1792 787 1793.5 785.9 1794.9 787.7 1796.4 786.9 1797.8 788.1 1799.3 788 1800.7 788.3 1802.1 788.3 1803.6 788.1 1805 788.7 1806.5 787.3 1807.9 788.1 1809.4 787.9 1810.8 788.8 1812.3 789.7 1813.7 788.7 1815.2 789.3 1816.6 790.3 1818 789 1819.5 789.8 1820.9 789.9 1822.4 788.9 1823.8 790.7 1825.3 791 1826.7 790.1 1828.2 790.8 1829.6 791 1831 791.8 1832.5 791.3 1833.9 791 1835.4 791.5 1836.8 791.2 1838.3 791.7 1839.7 792 1841.2 791.8 1842.6 791.6 1844.1 791.3 1845.5 791.4 1846.9 792 1848.4 791.7 1849.8 792 1851.3 792.4 1852.7 793.7 1854.2 792.5 1855.6 793.8 1857.1 792.5 1858.5 792.8 1859.9 794.2 1861.4 793 1862.8 794.6 1864.3 793.2 1865.7 793.7 1867.2 794.9 1868.6 794.3 1870.1 795 1871.5 795.1 1873 794.9 1874.4 795.5 1875.8 795.6 1877.3 796.1 1878.7 795.3 1880.2 796.3 1881.6 794.9 1883.1 795.7 1884.5 796.1 1886 796.2 1887.4 796.2 1888.8 796.2 1890.3 796.3 1891.7 797.8 1893.2 796.7 1894.6 796.1 1896.1 798.5 1897.5 797.7 1899 797.8 1900.4 797.8 1901.9 796.9 1903.3 797.9 1904.7 797.3 1906.2 799.2 1907.6 798.7 1909.1 798.2 1910.5 799 1912 798.8 1913.4 798.6 1914.9 798.7 1916.3 798.5 1917.7 798.9 1919.2 799 1920.6 798.5 1922.1 800.3 1923.5 798.7 1925 800.8 1926.4 798.9 1927.9 799.3 1929.3 800.1 1930.8 801.4 1932.2 799.7 1933.6 801.7 1935.1 801.5 1936.5 802.4 1938 801.8 1939.4 800 1940.9 802.8 1942.3 800.6 1943.8 802.2 1945.2 801.8 1946.6 803 1948.1 803 1949.5 801.6 1951 802.2 1952.4 803.5 1953.9 801.6 1955.3 803.5 1956.8 804 1958.2 803.9 1959.7 802.8 1961.1 802.5 1962.5 804.2 1964 803.8 1965.4 803.3 1966.9 805.2 1968.3 805.1 1969.8 803.4 1971.2 803.5 1972.7 803.9 1974.1 804.8 1975.5 805.1 1977 806 1978.4 804.2 1979.9 803.6 1981.3 803.7 1982.8 806 1984.2 806.5 1985.7 806.4 1987.1 806.6 1988.6 807 1990 805.8"/>
<path class="c" stroke="#00f" d="M256 966.9 257.4 950.7 258.9 938.8 260.3 940.3 261.8 934.8 263.2 930 264.7 912.5 266.1 919.4 267.6 904.3 269 907.9 270.4 903.1 271.9 894.4 273.3 885.4 274.8 890.8 276.2 884.8 277.7 866.2 279.1 869.7 280.6 865 282 863.4 283.5 863.8 284.9 842.2 286.3 839.9 287.8 835.9 289.2 836.5 290.7 839.7 292.1 836.5 293.6 816.8 295 812.7 296.5 800.2 297.9 807.9 299.3 798.4 300.8 780.7 302.2 778.3 303.7 778 305.1 762.4 306.6 773.5 308 764.4 309.5 744.3 310.9 752.2 312.4 739.4 313.8 728.1 315.2 734.7 316.7 729.7 318.1 731 319.6 736.3 321 732.5 322.5 727.8 323.9 720.6 325.4 724 326.8 709.6 328.2 721.8 329.7 716.5 331.1 726.6 332.6 728.1 334 729.5 335.5 722.2 336.9 730.5 338.4 723 339.8 718 341.3 721 342.7 720.5 344.1 726.5 345.6 724.9 347 730.2 348.5 720.6 349.9 728.7 351.4 724.5 352.8 721.5 354.3 719.9 355.7 733 357.1 741.6 358.6 743.3 360 741.8 361.5 744.3 362.9 738 364.4 734.5 365.8 745.7 367.3 727.6 368.7 739.7 370.2 735.1 371.6 741 373 734.7 374.5 731 375.9 726.7 377.4 731.9 378.8 741.9 380.3 737.1 381.7 726 383.2 719.5 384.6 719.5 386 726.2 387.5 714.5 388.9 710.6 390.4 716.5 391.8 708.9 393.3 707.6 394.7 709.6 396.2 705.2 397.6 699.2 399.1 695.2 400.5 694.3 401.9 694.6 403.4 684.6 404.8 691.2 406.3 689.8 407.7 677.2 409.2 685.9 410.6 681.1 412.1 681.8 413.5 676.4 414.9 664.4 416.4 668.6 417.8 667.8 419.3 669.8 420.7 656.6 422.2 653.5 423.6 662.4 425.1 652.2 426.5 658.5 428 648.2 429.4 662.5 430.8 648.1 432.3 662.9 433.7 660.4 435.2 647.9 436.6 650.6 438.1 652.5 439.5 649.9 441 647.5 442.4 642.8 443.8 648 445.3 632.4 446.7 645.2 448.2 632.5 449.6 627.3 451.1 626.5 452.5 628 454 628.3 455.4 641.3 456.9 634.1 458.3 631.1 459.7 634.3 461.2 637.4 462.6 620.2 464.1 625.2 465.5 629.9 467 615.2 468.4 619.3 469.9 620.8 471.3 608 472.7 612.4 474.2 615.4 475.6 619.9 477.1 601.8 478.5 603.6 480 609.8 481.4 606.2 482.9 607.8 484.3 605.6 485.8 599.9 487.2 595.8 488.6 593.7 490.1 600.5 491.5 602.5 493 606.2 494.4 595.5 495.9 597.6 497.3 595.8 498.8 579.8 500.2 590.3 501.6 588.4 503.1 583.7 504.5 581.5 506 587 507.4 580.7 508.9 580.4 510.3 580.2 511.8 573.3 513.2 573 514.7 571.9 516.1 572.2 517.5 577.8 519 573.7 520.4 572.2 521.9 572.1 523.3 569.4 524.8 571.1 526.2 576.3 527.7 561.6 529.1 568.4 530.5 579.5 532 568.6 533.4 559.2 534.9 577 536.3 573.8 537.8 559.3 539.2 557.5 540.7 563.4 542.1 566.1 543.6 551.3 545 567.6 546.4 549.6 547.9 552.3 549.3 547.2 550.8 554.5 552.2 553.5 553.7 562.2 555.1 558 556.6 565.4 558 563.2 559.4 555.4 560.9 567.7 562.3 560.4 563.8 553.9 565.2 570.6 566.7 560.5 568.1 563.4 569.6 571.4 571 563.6 572.5 561.3 573.9 562.1 575.3 563.7 576.8 570.4 578.2 568.7 579.7 561.9 581.1 559.7 582.6 572.6 584 560.5 585.5 562.8 586.9 577.7 588.3 563.7 589.8 567 591.2 576.6 592.7 567.3 594.1 567.2 595.6 574.9 597 563.3 598.5 572.9 599.9 557.2 601.4 553.6 602.8 559 604.2 570.2 605.7 551.5 607.1 551.8 608.6 550.4 610 563.2 611.5 564.6 612.9 564.6 614.4 559.3 615.8 554.7 617.2 547.9 618.7 563.3 620.1 552.9 621.6 562.1 623 549.9 624.5 542.6 625.9 549.8 627.4 544.9 628.8 539.5 630.3 544 631.7 539.3 633.1 550.5 634.6 544.2 636 538.7 637.5 533.2 638.9 531 640.4 541.8 641.8 544.9 643.3 530.6 644.7 531.3 646.1 530.1 647.6 537.6 649 542.6 650.5 534.4 651.9 539.2 653.4 536.7 654.8 528.5 656.3 531 657.7 530.6 659.2 524.3 660.6 526.2 662 534.2 663.5 531.4 664.9 524.2 666.4 521.1 667.8 524.6 669.3 518 670.7 513.6 672.2 511.8 673.6 511.2 675 523.7 676.5 507.5 677.9 520.9 679.4 511.9 680.8 506.1 682.3 513.6 683.7 507.9 685.2 509.4 686.6 503.6 688.1 509.2 689.5 510.4 690.9 513.1 692.4 498.7 693.8 504.4 695.3 503.7 696.7 505.6 698.2 503.3 699.6 499.3 701.1 498.3 702.5 497.8 703.9 488.6 705.4 487.4 706.8 494.8 708.3 484.2 709.7 489.2 711.2 489.2 712.6 480.2 714.1 484.5 715.5 478.7 717 474.4 718.4 478.8 719.8 476.9 721.3 471.6 722.7 473.6 724.2 476.5 725.6 469.4 727.1 468.4 728.5 473.1 730 468.7 731.4 459.6 732.8 462.3 734.3 465.6 735.7 459.9 737.2 454.3 738.6 449.4 740.1 454.3 741.5 455.3 743 445.8 744.4 445.7 745.9 441.4 747.3 439.8 748.7 441.4 750.2 436.2 751.6 444.6 753.1 434.1 754.5 432.1 756 433.7 757.4 432.3 758.9 432.4 760.3 424.9 761.7 424.8 763.2 423.9 764.6 423.8 766.1 414.9 767.5 417.6 769 420.8 770.4 412.4 771.9 409.9 773.3 412.9 774.8 408.6 776.2 409.9 777.6 405.3 779.1 407.5 780.5 406.8 782 398.3 783.4 395.9 784.9 392.6 786.3 396.1 787.8 389.4 789.2 386.9 790.6 387.8 792.1 380.9 793.5 380.5 795 381.5 796.4 373.9 797.9 374.3 799.3 373 800.8 370.1 802.2 367.5 803.7 364.8 805.1 367.8 806.5 360.1 808 358.2 809.4 356.8 810.9 353.8 812.3 358 813.8 356.1 815.2 351.1 816.7 352.2 818.1 345.4 819.5 345.7 821 344.8 822.4 340.8 823.9 339.3 825.3 336.7 826.8 331.8 828.2 329.3 829.7 327.1 831.1 326.9 832.6 325.7 834 324.5 835.4 321.4 836.9 320.8 838.3 314.1 839.8 317.6 841.2 313.2 842.7 310.7 844.1 309.1 845.6 306 847 304.1 848.4 299.1 849.9 301.3 851.3 298.1 852.8 292.3 854.2 291.3 855.7 288.7 857.1 286 858.6 285.9 860 282.4 861.5 280.7 862.9 278.9 864.3 278.4 865.8 274.2 867.2 275.2 868.7 272.2 870.1 271.2 871.6 271.6 873 269.3 874.5 267.5 875.9 263.6 877.3 264.1 878.8 265.4 880.2 265.3 881.7 263.1 883.1 262.6 884.6 261.8 886 261.6 887.5 258.2 888.9 258.6 890.4 260.7 891.8 259.9 893.2 260.2 894.7 261.3 896.1 260.9 897.6 257.4 899 258.9 900.5 256.9 901.9 257.5 903.4 257.3 904.8 259.7 906.2 260.9 907.7 258.3 909.1 261.5 910.6 257.3 912 258.8 913.5 260.7 914.9 261.8 916.4 261 917.8 261.1 919.3 261.7 920.7 265.3 922.1 266.8 923.6 267.1 925 268.8 926.5 270.6 927.9 268.5 929.4 270.1 930.8 272.2 932.3 270.1 933.7 272 935.1 272.5 936.6 277 938 277.7 939.5 277.2 940.9 276.5 942.4 279.5 943.8 280.5 945.3 282.8 946.7 283.1 948.2 284 949.6 283.9 951 285.3 952.5 287.2 953.9 288.5 955.4 290.7 956.8 292.2 958.3 290.2 959.7 294.8 961.2 296.1 962.6 296.1 964 296.5 965.5 299.4 966.9 299.9 968.4 300.3 969.8 301.2 971.3 303.3 972.7 306 974.2 306.9 975.6 308.1 977.1 310.4 978.5 311.9 979.9 314.3 981.4 316.4 982.8 318.2 984.3 317.4 985.7 321.5 987.2 321 988.6 323.9 990.1 327.2 991.5 327.1 992.9 329.5 994.4 330 995.8 332.2 997.3 334.1 998.7 336.2 1000.2 338.5 1001.6 339.5 1003.1 342 1004.5 343.9 1006 346.4 1007.4 346.7 1008.8 348.6 1010.3 349.9 1011.7 352.7 1013.2 355.8 1014.6 357.9 1016.1 359.4 1017.5 361.5 1019 361.3 1020.4 365.7 1021.8 367.3 1023.3 367.2 1024.7 371.5 1026.2 372.6 1027.6 373.9 1029.1 377.1 1030.5 378.8 1032 381 1033.4 382.8 1034.9 385.4 1036.3 385.8 1037.7 388.3 1039.2 390.8 1040.6 392.4 1042.1 395 1043.5 396 1045 399.4 1046.4 400.2 1047.9 403.4 1049.3 405.1 1050.7 405.7 1052.2 408.6 1053.6 410.7 1055.1 413 1056.5 414 1058 417.1 1059.4 417.8 1060.9 419.7 1062.3 422.2 1063.8 424.4 1065.2 427.5 1066.6 429.3 1068.1 431.1 1069.5 433.4 1071 434.5 1072.4 436.1 1073.9 438.7 1075.3 440.3 1076.8 442.4 1078.2 444.5 1079.6 445.5 1081.1 447.9 1082.5 450.4 1084 451.6 1085.4 453.7 1086.9 455.7 1088.3 457.1 1089.8 458.9 1091.2 461.9 1092.7 463.5 1094.1 465.2 1095.5 467.2 1097 468 1098.4 470 1099.9 472.5 1101.3 474.1 1102.8 475.8 1104.2 477.9 1105.7 479.3 1107.1 480.7 1108.5 482.8 1110 484.5 1111.4 486.4 1112.9 488.1 1114.3 489.4 1115.8 490.5 1117.2 492.2 1118.7 494.7 1120.1 495.6 1121.6 497.8 1123 499.1 1124.4 500.2 1125.9 502.4 1127.3 503.1 1128.8 505.3 1130.2 506.6 1131.7 507.6 1133.1 509.1 1134.6 510.4 1136 512.3 1137.4 514.3 1138.9 515.4 1140.3 516.5 1141.8 518.6 1143.2 519.8 1144.7 521.4 1146.1 522.1 1147.6 523.4 1149 525.5 1150.5 526.8 1151.9 527.1 1153.3 528.5 1154.8 530.4 1156.2 531.2 1157.7 532.4 1159.1 533.6 1160.6 535.8 1162 536.7 1163.5 537.5 1164.9 538.5 1166.3 540.5 1167.8 541.1 1169.2 543.2 1170.7 543.5 1172.1 545.4 1173.6 546.7 1175 547 1176.5 548.6 1177.9 549.9 1179.4 550.8 1180.8 552.3 1182.2 552.7 1183.7 554.7 1185.1 555.7 1186.6 556.3 1188 558 1189.5 558.3 1190.9 559.5 1192.4 560.4 1193.8 561.2 1195.2 563.1 1196.7 563.6 1198.1 564.4 1199.6 566.3 1201 566.5 1202.5 567.7 1203.9 568.8 1205.4 570.4 1206.8 571.1 1208.3 571.8 1209.7 572.5 1211.1 573.4 1212.6 574.6 1214 575.2 1215.5 577 1216.9 577.9 1218.4 578.4 1219.8 579 1221.3 579.8 1222.7 581.3 1224.1 581.5 1225.6 582.8 1227 583.4 1228.5 585.2 1229.9 585.3 1231.4 586.1 1232.8 586.7 1234.3 587.6 1235.7 588.9 1237.2 589.7 1238.6 590.7 1240 591.8 1241.5 592.4 1242.9 593.7 1244.4 594.5 1245.8 594.5 1247.3 595.2 1248.7 596.2 1250.2 597.5 1251.6 598 1253 599.3 1254.5 600.2 1255.9 600 1257.4 601.6 1258.8 602.3 1260.3 602.8 1261.7 603.8 1263.2 604.1 1264.6 605.4 1266.1 606.3 1267.5 606.5 1268.9 607.9 1270.4 607.8 1271.8 608.8 1273.3 609.5 1274.7 610.7 1276.2 610.8 1277.6 611.6 1279.1 612.8 1280.5 613.4 1281.9 613.6 1283.4 615.2 1284.8 615.4 1286.3 615.6 1287.7 617.4 1289.2 617.9 1290.6 618.2 1292.1 618.6 1293.5 620.1 1295 620.6 1296.4 620.8 1297.8 621.2 1299.3 622.3 1300.7 623.1 1302.2 623.7 1303.6 624.9 1305.1 625.2 1306.5 625.2 1308 625.9 1309.4 626.8 1310.8 627.2 1312.3 628.6 1313.7 628.6 1315.2 629.5 1316.6 630.2 1318.1 631 1319.5 630.9 1321 632.2 1322.4 632.3 1323.9 633.2 1325.3 634.3 1326.7 635 1328.2 634.6 1329.6 635.3 1331.1 636.7 1332.5 637 1334 637.6 1335.4 638.6 1336.9 638.1 1338.3 639.4 1339.7 639.7 1341.2 639.9 1342.6 641.3 1344.1 641.7 1345.5 641.8 1347 642.3 1348.4 643.1 1349.9 643.3 1351.3 644.8 1352.8 644.4 1354.2 645.5 1355.6 645.4 1357.1 646.8 1358.5 647.4 1360 647.5 1361.4 647.6 1362.9 648.5 1364.3 649.3 1365.8 649.7 1367.2 650.4 1368.6 651.1 1370.1 651.5 1371.5 651.4 1373 652.6 1374.4 652.4 1375.9 653.1 1377.3 653.9 1378.8 654 1380.2 654.5 1381.7 655.2 1383.1 655 1384.5 655.7 1386 656.4 1387.4 656.8 1388.9 656.9 1390.3 657.4 1391.8 658.5 1393.2 659.2 1394.7 658.9 1396.1 659.6 1397.5 660.2 1399 660.6 1400.4 661.3 1401.9 661.6 1403.3 661.7 1404.8 662.2 1406.2 662.9 1407.7 663.5 1409.1 663.5 1410.6 664.1 1412 664.7 1413.4 665.2 1414.9 665.2 1416.3 666.2 1417.8 666.1 1419.2 666.5 1420.7 667.3 1422.1 667.9 1423.6 667.6 1425 667.8 1426.4 668.3 1427.9 669.4 1429.3 669.9 1430.8 669.8 1432.2 670.7 1433.7 671 1435.1 671.5 1436.6 671.2 1438 671.9 1439.5 672.7 1440.9 672.8 1442.3 672.6 1443.8 673.8 1445.2 673.5 1446.7 674.4 1448.1 674.5 1449.6 674.7 1451 675.6 1452.5 675.3 1453.9 675.7 1455.3 676 1456.8 676.7 1458.2 677.2 1459.7 677.4 1461.1 677.6 1462.6 678.6 1464 678.1 1465.5 678.9 1466.9 679.6 1468.4 679.5 1469.8 679.7 1471.2 680.6 1472.7 681 1474.1 680.7 1475.6 681.7 1477 681.5 1478.5 681.9 1479.9 681.8 1481.4 682.6 1482.8 682.4 1484.2 682.8 1485.7 683.8 1487.1 684.1 1488.6 684 1490 684.8 1491.5 684.3 1492.9 685.2 1494.4 685.5 1495.8 685.6 1497.3 686.1 1498.7 686.2 1500.1 686.8 1501.6 686.3 1503 686.6 1504.5 686.9 1505.9 688.2 1507.4 687.8 1508.8 688.3 1510.3 688.8 1511.7 689.1 1513.1 689.3 1514.6 689.9 1516 689.6 1517.5 690 1518.9 690.5 1520.4 690.6 1521.8 690.9 1523.3 690.6 1524.7 691.7 1526.2 691.6 1527.6 691.6 1529 691.7 1530.5 692 1531.9 692.4 1533.4 692.8 1534.8 693.4 1536.3 693.8 1537.7 693.4 1539.2 693.8 1540.6 693.9 1542 694.2 1543.5 694.9 1544.9 695 1546.4 695 1547.8 695.6 1549.3 696.3 1550.7 696.1 1552.2 696.7 1553.6 697.1 1555.1 696.8 1556.5 696.8 1557.9 697.7 1559.4 697.5 1560.8 698 1562.3 698.5 1563.7 698.6 1565.2 698.6 1566.6 698.4 1568.1 698.7 1569.5 699 1570.9 699.7 1572.4 700.1 1573.8 700.2 1575.3 700.5 1576.7 700.9 1578.2 700.3 1579.6 701.1 1581.1 701.2 1582.5 701.3 1584 701.2 1585.4 702 1586.8 701.7 1588.3 702.6 1589.7 702.8 1591.2 702.8 1592.6 702.8 1594.1 702.9 1595.5 703.6 1597 704.1 1598.4 704.4 1599.8 703.8 1601.3 704.7 1602.7 704.2 1604.2 704.8 1605.6 705.5 1607.1 705.5 1608.5 705.5 1610 705.8 1611.4 705.8 1612.9 705.9 1614.3 706.1 1615.7 706.4 1617.2 706.7 1618.6 707.6 1620.1 707.1 1621.5 707.5 1623 708 1624.4 707.5 1625.9 708.4 1627.3 708.7 1628.7 708.3 1630.2 708.8 1631.6 708.9 1633.1 708.8 1634.5 709.8 1636 710.1 1637.4 709.3 1638.9 710.1 1640.3 710.4 1641.8 711.1 1643.2 711 1644.6 711.4 1646.1 711.7 1647.5 711.4 1649 711.8 1650.4 712.3 1651.9 711.4 1653.3 712.4 1654.8 712.8 1656.2 712.1 1657.6 713.5 1659.1 712.5 1660.5 713.4 1662 713.4 1663.4 713.5 1664.9 713.4 1666.3 714 1667.8 714.2 1669.2 715.2 1670.7 714.8 1672.1 714.5 1673.5 714.6 1675 715.5 1676.4 715.7 1677.9 716 1679.3 716.7 1680.8 715.8 1682.2 715.9 1683.7 717.3 1685.1 717.4 1686.5 716.8 1688 716.8 1689.4 717.2 1690.9 718.3 1692.3 717.7 1693.8 718.3 1695.2 718.6 1696.7 718.7 1698.1 718.6 1699.6 719.6 1701 719.7 1702.4 719 1703.9 718.7 1705.3 719.5 1706.8 719.2 1708.2 719.4 1709.7 720.7 1711.1 721.2 1712.6 720.3 1714 720.6 1715.4 721.7 1716.9 720.6 1718.3 720.8 1719.8 721.7 1721.2 721.3 1722.7 721.6 1724.1 722.1 1725.6 723.2 1727 722.6 1728.5 723.3 1729.9 723.3 1731.3 723.3 1732.8 723.5 1734.2 724 1735.7 724 1737.1 724.4 1738.6 725 1740 724.7 1741.5 724.8 1742.9 725 1744.3 725.3 1745.8 725.1 1747.2 725.5 1748.7 726.3 1750.1 725.8 1751.6 726.1 1753 725.7 1754.5 725.8 1755.9 727 1757.4 726.7 1758.8 727.3 1760.2 726.7 1761.7 728 1763.1 727.1 1764.6 727.1 1766 728.8 1767.5 728.4 1768.9 727.9 1770.4 729.3 1771.8 729.1 1773.2 729.3 1774.7 728.5 1776.1 729.4 1777.6 728.9 1779 729.3 1780.5 730.6 1781.9 730.4 1783.4 730.4 1784.8 730.8 1786.3 730.6 1787.7 731.3 1789.1 731 1790.6 730.6 1792 731.1 1793.5 731 1794.9 730.8 1796.4 731.9 1797.8 732 1799.3 732.6 1800.7 733 1802.1 731.8 1803.6 733.5 1805 732.2 1806.5 732.6 1807.9 732.4 1809.4 733.1 1810.8 733.2 1812.3 734.6 1813.7 734.3 1815.2 733.3 1816.6 734.6 1818 735.4 1819.5 735.2 1820.9 734.5 1822.4 734.8 1823.8 735.4 1825.3 734.7 1826.7 734.5 1828.2 736.1 1829.6 735.4 1831 736.2 1832.5 735.9 1833.9 737.4 1835.4 735.8 1836.8 737.2 1838.3 736.4 1839.7 737 1841.2 738.2 1842.6 736.4 1844.1 737.6 1845.5 738 1846.9 738.4 1848.4 737 1849.8 738 1851.3 737.5 1852.7 739.5 1854.2 739 1855.6 739.5 1857.1 739.9 1858.5 740 1859.9 740.5 1861.4 738.6 1862.8 740.7 1864.3 739.3 1865.7 740.3 1867.2 740.1 1868.6 740.6 1870.1 741.1 1871.5 741.5 1873 741.5 1874.4 741.4 1875.8 740 1877.3 741 1878.7 741.1 1880.2 741.9 1881.6 740.9 1883.1 741 1884.5 743.1 1886 743.4 1887.4 742.2 1888.8 742 1890.3 743.5 1891.7 741.7 1893.2 741.9 1894.6 743.5 1896.1 742.8 1897.5 744.2 1899 742.4 1900.4 743.4 1901.9 743.5 1903.3 743.9 1904.7 745 1906.2 744.2 1907.6 744 1909.1 743.5 1910.5 743.8 1912 744.2 1913.4 745.5 1914.9 744.1 1916.3 745.8 1917.7 744.3 1919.2 744.6 1920.6 746.6 1922.1 746.8 1923.5 746 1925 745.7 1926.4 745.5 1927.9 746.6 1929.3 747.8 1930.8 747.1 1932.2 746.3 1933.6 748.4 1935.1 748.5 1936.5 748 1938 746.5 1939.4 747.5 1940.9 748.5 1942.3 747.3 1943.8 747.1 1945.2 747.9 1946.6 749.1 1948.1 748.9 1949.5 747.4 1951 748.7 1952.4 748 1953.9 750.2 1955.3 747.7 1956.8 747.9 1958.2 750 1959.7 748.3 1961.1 748.9 1962.5 748.5 1964 749.9 1965.4 749.2 1966.9 750.6 1968.3 750.9 1969.8 751.8 1971.2 749.8 1972.7 751 1974.1 751.4 1975.5 750.3 1977 752.4 1978.4 749.7 1979.9 750.1 1981.3 750.9 1982.8 750.3 1984.2 752.8 1985.7 750.5 1987.1 751.2 1988.6 752.8 1990 751.2"/>
<path class="c" stroke="#008080" d="M256 828.4 257.4 820.3 258.9 800.6 260.3 776.5 261.8 763.1 263.2 762.8 264.7 743.6 266.1 743 267.6 743.3 269 734.7 270.4 722.2 271.9 738.2 273.3 734.9 274.8 718.4 276.2 720.7 277.7 724.9 279.1 717.6 280.6 696 282 696.7 283.5 692.3 284.9 700.1 286.3 692.1 287.8 677.5 289.2 672.1 290.7 690 292.1 669.4 293.6 672.2 295 666.6 296.5 672.9 297.9 656.9 299.3 658.9 300.8 649.7 302.2 630.7 303.7 636.2 305.1 621.4 306.6 615.7 308 627.5 309.5 613.9 310.9 600.1 312.4 600.6 313.8 594.1 315.2 592.8 316.7 587.8 318.1 584 319.6 574.5 321 574.8 322.5 580 323.9 577 325.4 578.5 326.8 588.9 328.2 587.4 329.7 578 331.1 585 332.6 584.9 334 570.5 335.5 566.5 336.9 575.3 338.4 584.9 339.8 566.8 341.3 568.3 342.7 584.7 344.1 564.8 345.6 584.1 347 567.1 348.5 576.9 349.9 585.8 351.4 568.6 352.8 574 354.3 587.9 355.7 569.4 357.1 568.7 358.6 582 360 586.6 361.5 576.3 362.9 566.8 364.4 580.3 365.8 564.9 367.3 563.1 368.7 570 370.2 584.5 371.6 580.4 373 567.5 374.5 557.7 375.9 557 377.4 566.8 378.8 564.1 380.3 561.9 381.7 548.7 383.2 565.7 384.6 557.8 386 560.4 387.5 549.5 388.9 535.9 390.4 549.5 391.8 542.3 393.3 526.9 394.7 525.4 396.2 534 397.6 545.4 399.1 529.2 400.5 533.7 401.9 529.6 403.4 517.9 404.8 518.2 406.3 507.9 407.7 510.5 409.2 521.7 410.6 524.3 412.1 507.7 413.5 523.6 414.9 519.9 416.4 529.7 417.8 524.7 419.3 513.2 420.7 514.4 422.2 496.8 423.6 522.1 425.1 518.4 426.5 505.8 428 495.1 429.4 504.3 430.8 496.2 432.3 502.1 433.7 494.6 435.2 491.4 436.6 494.1 438.1 507.8 439.5 506.9 441 488.9 442.4 489.4 443.8 492.7 445.3 488.3 446.7 485.5 448.2 490.6 449.6 476.2 451.1 472.8 452.5 476.9 454 499.7 455.4 492.2 456.9 483.4 458.3 469.6 459.7 495.3 461.2 490.3 462.6 490.9 464.1 476.8 465.5 466.4 467 460.9 468.4 477.6 469.9 457 471.3 469.9 472.7 473.4 474.2 467.4 475.6 473.8 477.1 477.3 478.5 450.3 480 450.7 481.4 449.9 482.9 454.6 484.3 462 485.8 458 487.2 457.4 488.6 464.1 490.1 446.7 491.5 445 493 445 494.4 466.1 495.9 450.7 497.3 457.4 498.8 465.9 500.2 442.7 501.6 437.8 503.1 443.8 504.5 446.7 506 450.8 507.4 439.8 508.9 456.1 510.3 450.6 511.8 454.3 513.2 435 514.7 435.5 516.1 447 517.5 439.1 519 456.1 520.4 449.6 521.9 430.9 523.3 429 524.8 435.2 526.2 449.4 527.7 443 529.1 430.6 530.5 424.4 532 439 533.4 451.8 534.9 440.1 536.3 451.3 537.8 436.4 539.2 452.1 540.7 436.9 542.1 447.7 543.6 431.1 545 425.1 546.4 445.6 547.9 427 549.3 447.9 550.8 451.3 552.2 432.4 553.7 431.1 555.1 440.1 556.6 443.8 558 425.2 559.4 444.8 560.9 432.1 562.3 429.7 563.8 436.9 565.2 440 566.7 439.4 568.1 449.6 569.6 443 571 437.9 572.5 442.3 573.9 445.4 575.3 455.3 576.8 441.2 578.2 455.7 579.7 453.2 581.1 462 582.6 449.5 584 443.9 585.5 441.6 586.9 456 588.3 469 589.8 447.9 591.2 450.9 592.7 464.1 594.1 450.7 595.6 465.3 597 437.3 598.5 463 599.9 443.1 601.4 463.8 602.8 456.7 604.2 457.4 605.7 446.5 607.1 440.6 608.6 440.7 610 457.5 611.5 442.5 612.9 428.5 614.4 446.8 615.8 446.5 617.2 444.4 618.7 427.4 620.1 429.6 621.6 446.7 623 440 624.5 441.8 625.9 421.6 627.4 435.5 628.8 424.8 630.3 422.1 631.7 417.2 633.1 414.9 634.6 417.5 636 431.2 637.5 424.8 638.9 421.3 640.4 414.5 641.8 408.3 643.3 417.4 644.7 423.5 646.1 411 647.6 398.1 649 424.4 650.5 410.5 651.9 399.5 653.4 421.3 654.8 407.4 656.3 399.2 657.7 424.6 659.2 405.6 660.6 399.8 662 404 663.5 388 664.9 391 666.4 399.7 667.8 388.5 669.3 378 670.7 383.6 672.2 401.6 673.6 393.3 675 389.2 676.5 372.1 677.9 396 679.4 382.7 680.8 380 682.3 386.1 683.7 381.8 685.2 383 686.6 363.4 688.1 373.3 689.5 378.4 690.9 364.1 692.4 357.7 693.8 357 695.3 354.5 696.7 358.2 698.2 356.9 699.6 339.2 701.1 335.9 702.5 336.4 703.9 340.1 705.4 341.2 706.8 350.8 708.3 349.2 709.7 333.5 711.2 340 712.6 341.2 714.1 342.4 715.5 328.8 717 324 718.4 323.6 719.8 322.3 721.3 324.6 722.7 331.6 724.2 323 725.6 321.5 727.1 318.2 728.5 312.9 730 321.7 731.4 305.1 732.8 315.3 734.3 312.6 735.7 295.5 737.2 301.4 738.6 304.3 740.1 299.3 741.5 292.9 743 289.1 744.4 282.7 745.9 281.5 747.3 297.2 748.7 288.5 750.2 289.9 751.6 273.6 753.1 274 754.5 277.7 756 284.7 757.4 273.6 758.9 270.8 760.3 282.4 761.7 282.2 763.2 283 764.6 266.5 766.1 271.7 767.5 265.5 769 272.2 770.4 260.9 771.9 255.4 773.3 262.8 774.8 255.5 776.2 247.1 777.6 251.2 779.1 251.7 780.5 253.3 782 245.7 783.4 239.7 784.9 247.1 786.3 248.7 787.8 237.6 789.2 242.2 790.6 241.8 792.1 243.4 793.5 228.4 795 235 796.4 231.2 797.9 223.5 799.3 225.6 800.8 217.5 802.2 215.9 803.7 214.1 805.1 217.6 806.5 217.8 808 212.4 809.4 214.2 810.9 211.8 812.3 207.5 813.8 207.2 815.2 206.6 816.7 205.2 818.1 199.1 819.5 207.2 821 207.3 822.4 200.6 823.9 202.3 825.3 204.5 826.8 195.4 828.2 202.8 829.7 199.1 831.1 199.9 832.6 191.2 834 186.7 835.4 183.8 836.9 190 838.3 186 839.8 180.8 841.2 177.3 842.7 181.8 844.1 182.4 845.6 179.9 847 171.9 848.4 174.8 849.9 172.3 851.3 166.8 852.8 170.6 854.2 172.8 855.7 163.1 857.1 162.6 858.6 163.7 860 159.5 861.5 160.1 862.9 165.6 864.3 158 865.8 161.2 867.2 160.2 868.7 154.9 870.1 158.1 871.6 152.6 873 156.5 874.5 157.8 875.9 151.2 877.3 148 878.8 147 880.2 151.2 881.7 149 883.1 144.9 884.6 148.5 886 152 887.5 148 888.9 148.7 890.4 147.7 891.8 148.9 893.2 147.5 894.7 147.1 896.1 153.5 897.6 150.3 899 149.5 900.5 149.2 901.9 152.8 903.4 149.8 904.8 153.3 906.2 149.7 907.7 151.4 909.1 154.2 910.6 154.8 912 155.5 913.5 152.9 914.9 154.7 916.4 153.2 917.8 151.5 919.3 154.7 920.7 153.9 922.1 153 923.6 155.7 925 156.8 926.5 159.5 927.9 161.9 929.4 162 930.8 162.4 932.3 160.5 933.7 160.5 935.1 161.2 936.6 164.5 938 162 939.5 165.5 940.9 165.8 942.4 167.7 943.8 166.4 945.3 170.3 946.7 170.6 948.2 170.5 949.6 173 951 176.3 952.5 176.7 953.9 173.9 955.4 175.5 956.8 176 958.3 177.9 959.7 179 961.2 183.4 962.6 181.4 964 183.6 965.5 183.5 966.9 185.8 968.4 189.2 969.8 189.5 971.3 186.8 972.7 192.2 974.2 189.6 975.6 190.9 977.1 191.8 978.5 196 979.9 196.3 981.4 196.9 982.8 197.4 984.3 198.2 985.7 202 987.2 200.4 988.6 201.3 990.1 204.4 991.5 206.4 992.9 205.8 994.4 206.9 995.8 207.4 997.3 209.8 998.7 211.9 1000.2 213.6 1001.6 213.5 1003.1 214.1 1004.5 216.5 1006 218.4 1007.4 218.3 1008.8 220 1010.3 224.4 1011.7 222.8 1013.2 224.4 1014.6 227.5 1016.1 228.1 1017.5 230.2 1019 231.7 1020.4 235.2 1021.8 236 1023.3 237.9 1024.7 238.6 1026.2 238.8 1027.6 241.9 1029.1 242.3 1030.5 245.7 1032 246 1033.4 248.6 1034.9 249.8 1036.3 251.4 1037.7 254.9 1039.2 256.4 1040.6 256.6 1042.1 258.6 1043.5 259.3 1045 261.5 1046.4 264.7 1047.9 264.2 1049.3 267.3 1050.7 268.1 1052.2 269.9 1053.6 272.3 1055.1 273.4 1056.5 276.4 1058 277.5 1059.4 279.7 1060.9 280.7 1062.3 282.5 1063.8 284.6 1065.2 287 1066.6 287.9 1068.1 290.8 1069.5 291.4 1071 292.8 1072.4 295.6 1073.9 296.4 1075.3 299.5 1076.8 300.3 1078.2 302.3 1079.6 303.3 1081.1 305.5 1082.5 308.3 1084 308.7 1085.4 310.1 1086.9 313.2 1088.3 315.3 1089.8 315.6 1091.2 319.1 1092.7 319.2 1094.1 321.1 1095.5 324.2 1097 324.8 1098.4 327.5 1099.9 328.8 1101.3 331.3 1102.8 332.4 1104.2 333.5 1105.7 335.9 1107.1 338.4 1108.5 339.3 1110 340.5 1111.4 343.6 1112.9 344.9 1114.3 346.4 1115.8 348.1 1117.2 349.6 1118.7 350.9 1120.1 352.5 1121.6 354.4 1123 356.3 1124.4 358.2 1125.9 360 1127.3 361.3 1128.8 363.7 1130.2 365.5 1131.7 367 1133.1 368.6 1134.6 369.5 1136 371.6 1137.4 373.3 1138.9 374.6 1140.3 376.7 1141.8 378.1 1143.2 380.5 1144.7 381.8 1146.1 383.1 1147.6 384.6 1149 386.1 1150.5 387.8 1151.9 389.8 1153.3 391.1 1154.8 392.6 1156.2 394.1 1157.7 395.9 1159.1 397.2 1160.6 399 1162 400.3 1163.5 402.2 1164.9 404.3 1166.3 405.1 1167.8 407.4 1169.2 408.3 1170.7 409.8 1172.1 410.9 1173.6 413 1175 414.8 1176.5 415.4 1177.9 416.8 1179.4 418.5 1180.8 420.2 1182.2 421.3 1183.7 423 1185.1 424.4 1186.6 426.3 1188 427.7 1189.5 429.1 1190.9 430.3 1192.4 431.1 1193.8 432.3 1195.2 433.6 1196.7 435.4 1198.1 436.9 1199.6 437.5 1201 439.2 1202.5 440.7 1203.9 441.5 1205.4 443.2 1206.8 444.5 1208.3 445.6 1209.7 447 1211.1 448.1 1212.6 449.1 1214 450.3 1215.5 452.1 1216.9 453.8 1218.4 454 1219.8 456.1 1221.3 456.6 1222.7 458.6 1224.1 459.1 1225.6 461.1 1227 462.2 1228.5 462.5 1229.9 464.4 1231.4 465 1232.8 466 1234.3 467.2 1235.7 468.6 1237.2 470.2 1238.6 470.6 1240 471.8 1241.5 473.5 1242.9 474 1244.4 475.4 1245.8 475.9 1247.3 477.7 1248.7 478.7 1250.2 479.8 1251.6 480.5 1253 481.8 1254.5 482.7 1255.9 483.7 1257.4 484.6 1258.8 485.4 1260.3 486.6 1261.7 487.6 1263.2 488.7 1264.6 489.5 1266.1 490.9 1267.5 491.9 1268.9 493.2 1270.4 494 1271.8 494.5 1273.3 495.9 1274.7 496.4 1276.2 497.8 1277.6 498.3 1279.1 500.2 1280.5 500.8 1281.9 501.8 1283.4 502.9 1284.8 503 1286.3 504.3 1287.7 505.5 1289.2 506.1 1290.6 506.8 1292.1 507.7 1293.5 509.4 1295 509.9 1296.4 510.2 1297.8 511.9 1299.3 512.6 1300.7 513.6 1302.2 514.3 1303.6 514.7 1305.1 516.4 1306.5 517.3 1308 518 1309.4 517.9 1310.8 518.8 1312.3 519.9 1313.7 520.8 1315.2 522.2 1316.6 522.1 1318.1 523 1319.5 524.6 1321 524.9 1322.4 526.1 1323.9 526.8 1325.3 526.8 1326.7 528.2 1328.2 528.7 1329.6 529.2 1331.1 530.9 1332.5 531.1 1334 531.9 1335.4 532.3 1336.9 533.5 1338.3 534.1 1339.7 534.6 1341.2 535.9 1342.6 536.2 1344.1 536.6 1345.5 538.3 1347 539.1 1348.4 538.8 1349.9 540.5 1351.3 540.7 1352.8 540.9 1354.2 541.5 1355.6 542.2 1357.1 543.2 1358.5 544.3 1360 544.4 1361.4 545.5 1362.9 545.7 1364.3 547.4 1365.8 547.4 1367.2 548.3 1368.6 549 1370.1 549 1371.5 549.7 1373 550.8 1374.4 551 1375.9 552.4 1377.3 552.4 1378.8 553.5 1380.2 554.3 1381.7 554.4 1383.1 555.4 1384.5 556 1386 556.6 1387.4 557.1 1388.9 557.9 1390.3 558.3 1391.8 558.6 1393.2 559.7 1394.7 559.9 1396.1 561.2 1397.5 560.9 1399 562.2 1400.4 562.9 1401.9 563.5 1403.3 563.9 1404.8 563.9 1406.2 564.5 1407.7 565.1 1409.1 565.6 1410.6 567 1412 566.7 1413.4 568.2 1414.9 568.4 1416.3 568.5 1417.8 569.1 1419.2 569.9 1420.7 570.5 1422.1 570.6 1423.6 572.1 1425 571.9 1426.4 573.2 1427.9 573.1 1429.3 574.1 1430.8 573.7 1432.2 574.8 1433.7 574.8 1435.1 576.3 1436.6 576.4 1438 576.4 1439.5 577.7 1440.9 578.2 1442.3 578.4 1443.8 579.4 1445.2 579.3 1446.7 579.9 1448.1 580.6 1449.6 581.3 1451 581.4 1452.5 581.6 1453.9 582.3 1455.3 583.1 1456.8 583.6 1458.2 583.6 1459.7 584.8 1461.1 584.8 1462.6 585.8 1464 585.9 1465.5 586.6 1466.9 587.4 1468.4 587.9 1469.8 587.7 1471.2 588.3 1472.7 589.2 1474.1 589.3 1475.6 590.3 1477 590 1478.5 591.2 1479.9 591.2 1481.4 592 1482.8 592.5 1484.2 592.7 1485.7 593.6 1487.1 594.1 1488.6 594.4 1490 594.8 1491.5 594.7 1492.9 595.7 1494.4 596 1495.8 596.7 1497.3 596.9 1498.7 597.6 1500.1 597.4 1501.6 597.9 1503 598.4 1504.5 598.9 1505.9 599.8 1507.4 599.9 1508.8 600.8 1510.3 600.6 1511.7 601.2 1513.1 601.7 1514.6 601.5 1516 602 1517.5 602.6 1518.9 603.4 1520.4 603.3 1521.8 603.8 1523.3 605 1524.7 605 1526.2 605 1527.6 605.4 1529 605.8 1530.5 606.3 1531.9 607.4 1533.4 607.6 1534.8 607.7 1536.3 608 1537.7 609.1 1539.2 608.8 1540.6 609.5 1542 610.4 1543.5 610 1544.9 611 1546.4 611.5 1547.8 611.1 1549.3 611.7 1550.7 612.2 1552.2 613.2 1553.6 613.4 1555.1 614 1556.5 613.8 1557.9 614.2 1559.4 614.9 1560.8 615 1562.3 615.8 1563.7 615.6 1565.2 616.7 1566.6 616.4 1568.1 616.6 1569.5 617.4 1570.9 618.1 1572.4 618.1 1573.8 618.4 1575.3 618.5 1576.7 619.4 1578.2 620.1 1579.6 619.6 1581.1 620.5 1582.5 620.8 1584 621.2 1585.4 621.7 1586.8 622 1588.3 622.5 1589.7 622.3 1591.2 622.8 1592.6 622.8 1594.1 623.9 1595.5 624.4 1597 624.6 1598.4 624.9 1599.8 624.6 1601.3 625.5 1602.7 626 1604.2 626 1605.6 626.3 1607.1 626.8 1608.5 627.6 1610 627.2 1611.4 628 1612.9 628.4 1614.3 628.3 1615.7 628.7 1617.2 629.5 1618.6 629.2 1620.1 629.7 1621.5 630.1 1623 630 1624.4 631.1 1625.9 631.4 1627.3 631.6 1628.7 632 1630.2 631.7 1631.6 632.2 1633.1 632.4 1634.5 633.2 1636 633 1637.4 634 1638.9 634.6 1640.3 634.4 1641.8 634.7 1643.2 635.5 1644.6 635 1646.1 636.1 1647.5 636.2 1649 636.3 1650.4 636.8 1651.9 636.7 1653.3 636.8 1654.8 638.3 1656.2 638.5 1657.6 638.7 1659.1 638.3 1660.5 638.6 1662 639.6 1663.4 640 1664.9 640.3 1666.3 639.7 1667.8 640.3 1669.2 641.4 1670.7 640.6 1672.1 641.1 1673.5 642 1675 642.5 1676.4 642.2 1677.9 642.3 1679.3 642.9 1680.8 642.7 1682.2 643.5 1683.7 643.4 1685.1 643.6 1686.5 644.8 1688 644.9 1689.4 644.7 1690.9 645 1692.3 645.9 1693.8 645.8 1695.2 645.6 1696.7 645.9 1698.1 646.4 1699.6 647.2 1701 648 1702.4 648.1 1703.9 647.2 1705.3 647.9 1706.8 649.2 1708.2 649.1 1709.7 649.7 1711.1 649.5 1712.6 649.6 1714 650 1715.4 650.4 1716.9 650 1718.3 651.2 1719.8 650.6 1721.2 651 1722.7 651.3 1724.1 651.4 1725.6 651.8 1727 652.9 1728.5 652.3 1729.9 652.7 1731.3 652.8 1732.8 653.1 1734.2 654.3 1735.7 654.8 1737.1 654.3 1738.6 654.4 1740 655.6 1741.5 654.8 1742.9 655.3 1744.3 656.4 1745.8 656 1747.2 655.8 1748.7 656.5 1750.1 655.8 1751.6 657.1 1753 658.1 1754.5 657.5 1755.9 658.6 1757.4 657.3 1758.8 657.9 1760.2 658.5 1761.7 658.5 1763.1 658.9 1764.6 659.7 1766 659.8 1767.5 659.4 1768.9 659.9 1770.4 660.7 1771.8 660 1773.2 660.4 1774.7 660.2 1776.1 662.1 1777.6 661.5 1779 662.6 1780.5 662.7 1781.9 662.5 1783.4 662.1 1784.8 663 1786.3 662.2 1787.7 663.9 1789.1 664.4 1790.6 664.8 1792 665 1793.5 663.4 1794.9 665.2 1796.4 665 1797.8 665.8 1799.3 665.8 1800.7 664.6 1802.1 666.8 1803.6 665.1 1805 666.3 1806.5 666.9 1807.9 666.2 1809.4 667 1810.8 666.2 1812.3 666.8 1813.7 667.2 1815.2 668.1 1816.6 667.6 1818 669.1 1819.5 668.5 1820.9 669.9 1822.4 668.5 1823.8 669 1825.3 670.1 1826.7 669.8 1828.2 671.1 1829.6 670.5 1831 670.8 1832.5 671 1833.9 670.3 1835.4 671.4 1836.8 670.6 1838.3 670.9 1839.7 672.2 1841.2 672 1842.6 673.6 1844.1 672 1845.5 673.5 1846.9 672.7 1848.4 673.7 1849.8 674.2 1851.3 674 1852.7 674.3 1854.2 673.9 1855.6 673.7 1857.1 674.4 1858.5 674.9 1859.9 675.3 1861.4 676.4 1862.8 674.6 1864.3 677 1865.7 675.6 1867.2 675.3 1868.6 676 1870.1 677.6 1871.5 676.3 1873 676.9 1874.4 678.6 1875.8 678.7 1877.3 677.1 1878.7 678.3 1880.2 679.1 1881.6 678.9 1883.1 678.1 1884.5 679.8 1886 678.2 1887.4 679.7 1888.8 680.6 1890.3 679.9 1891.7 679.4 1893.2 680.3 1894.6 681.1 1896.1 680.4 1897.5 682.1 1899 680.6 1900.4 681.2 1901.9 681.1 1903.3 682.3 1904.7 681.7 1906.2 683 1907.6 682.4 1909.1 683.9 1910.5 682.7 1912 682.4 1913.4 683.2 1914.9 683.7 1916.3 685.3 1917.7 684.9 1919.2 683.7 1920.6 685.8 1922.1 683.8 1923.5 684.3 1925 685.9 1926.4 685.7 1927.9 686.4 1929.3 685.7 1930.8 687.6 1932.2 686.7 1933.6 686.3 1935.1 688.2 1936.5 688.3 1938 686.1 1939.4 688.8 1940.9 686.7 1942.3 688 1943.8 688.9 1945.2 687.7 1946.6 687.6 1948.1 688 1949.5 688.5 1951 689.7 1952.4 688.6 1953.9 689.6 1955.3 689.6 1956.8 690.6 1958.2 690.5 1959.7 689.6 1961.1 689.9 1962.5 692.2 1964 691.4 1965.4 692.5 1966.9 691.4 1968.3 693.2 1969.8 693.3 1971.2 691.6 1972.7 694 1974.1 693.7 1975.5 694.2 1977 692.4 1978.4 693.9 1979.9 692.7 1981.3 695 1982.8 695.1 1984.2 693.6 1985.7 694.6 1987.1 695.7 1988.6 693.7 1990 694.1"/>
<path class="c" stroke="#f0f" d="M256 742.3 257.4 728.4 258.9 729.6 260.3 726.8 261.8 710.4 263.2 703.6 264.7 683.9 266.1 688.5 267.6 693.3 269 684.8 270.4 676.5 271.9 656.2 273.3 672.7 274.8 665.8 276.2 638.6 277.7 641.7 279.1 617.4 280.6 614 282 614.2 283.5 604.9 284.9 616.7 286.3 613.4 287.8 595.2 289.2 589.7 290.7 579.1 292.1 574 293.6 588.2 295 580.6 296.5 559.7 297.9 566 299.3 556.9 300.8 563.9 302.2 553.3 303.7 543.1 305.1 535.6 306.6 544.3 308 542.3 309.5 517 310.9 510.4 312.4 526.9 313.8 496.3 315.2 503.6 316.7 489.1 318.1 496.4 319.6 484.6 321 491.9 322.5 510.7 323.9 514.3 325.4 509 326.8 499.1 328.2 500.6 329.7 489.8 331.1 481.4 332.6 491.2 334 502.1 335.5 474.4 336.9 472 338.4 501.7 339.8 483.1 341.3 499.9 342.7 502.3 344.1 511.2 345.6 490.6 347 489 348.5 507 349.9 505.3 351.4 500.8 352.8 507.1 354.3 500.4 355.7 512.9 357.1 487.7 358.6 503.5 360 511.4 361.5 486.3 362.9 496.6 364.4 485.5 365.8 487.8 367.3 470.6 368.7 466.7 370.2 494.8 371.6 481.1 373 486.4 374.5 489.7 375.9 475.4 377.4 471.9 378.8 462.5 380.3 486.1 381.7 486.2 383.2 480.8 384.6 485 386 474.5 387.5 475.1 388.9 453.7 390.4 475.3 391.8 456.3 393.3 458.5 394.7 451 396.2 457.7 397.6 458 399.1 451.7 400.5 439.1 401.9 433.3 403.4 456.8 404.8 433.7 406.3 437.9 407.7 422.7 409.2 429.9 410.6 420.1 412.1 429.3 413.5 442.9 414.9 452.5 416.4 437.7 417.8 422.7 419.3 437.6 420.7 435.8 422.2 443 423.6 430.4 425.1 444 426.5 422.2 428 414.9 429.4 422.1 430.8 436.7 432.3 427.8 433.7 417.8 435.2 417.2 436.6 422.7 438.1 414 439.5 417.4 441 433.5 442.4 431.2 443.8 426.8 445.3 397.6 446.7 414 448.2 405.7 449.6 426.8 451.1 402.1 452.5 426.1 454 397.7 455.4 404.3 456.9 425.2 458.3 410 459.7 422.7 461.2 406.2 462.6 392.8 464.1 411.1 465.5 402.1 467 400 468.4 383.6 469.9 382 471.3 410.8 472.7 408.3 474.2 405 475.6 377.5 477.1 363 478.5 382.7 480 389.6 481.4 385.7 482.9 361.6 484.3 368.6 485.8 387.1 487.2 360.8 488.6 392.1 490.1 397.5 491.5 367.5 493 359.2 494.4 395.5 495.9 386.1 497.3 372.4 498.8 372.1 500.2 388.3 501.6 364.5 503.1 350.6 504.5 371.1 506 357.4 507.4 371.1 508.9 381.6 510.3 358.4 511.8 354.3 513.2 347.1 514.7 378.6 516.1 348.7 517.5 383.4 519 372.9 520.4 380.3 521.9 375.5 523.3 349.6 524.8 348 526.2 378 527.7 349.8 529.1 368.5 530.5 342.9 532 348 533.4 364.4 534.9 349.9 536.3 372.7 537.8 379.9 539.2 358.4 540.7 357.5 542.1 346.7 543.6 362.4 545 348.2 546.4 368.5 547.9 373.1 549.3 368.5 550.8 370.3 552.2 370.6 553.7 383.2 555.1 368.9 556.6 382.9 558 363.6 559.4 356.3 560.9 360.8 562.3 385 563.8 364.2 565.2 388.1 566.7 395.5 568.1 383.1 569.6 368.4 571 388.2 572.5 378.9 573.9 400.4 575.3 373.3 576.8 374 578.2 384.3 579.7 385.1 581.1 373.4 582.6 381.3 584 393.4 585.5 385.6 586.9 369.1 588.3 383.4 589.8 383.4 591.2 384.7 592.7 367.7 594.1 377.7 595.6 404.6 597 401.6 598.5 403.4 599.9 395.6 601.4 381.9 602.8 401.2 604.2 374.9 605.7 385.5 607.1 384.2 608.6 377.1 610 368.2 611.5 370.1 612.9 381.1 614.4 365.3 615.8 366.2 617.2 364.9 618.7 362.1 620.1 380.5 621.6 367.4 623 344.8 624.5 371.5 625.9 360.3 627.4 369.2 628.8 356.3 630.3 347.3 631.7 365.7 633.1 338.5 634.6 340.7 636 346.7 637.5 358.9 638.9 329.4 640.4 336 641.8 341.5 643.3 345.2 644.7 322.8 646.1 344.8 647.6 336.2 649 333.4 650.5 327.2 651.9 323.6 653.4 342.5 654.8 344.7 656.3 315 657.7 315 659.2 329.3 660.6 331.3 662 331.9 663.5 313 664.9 308.6 666.4 302.8 667.8 311.4 669.3 316.1 670.7 324.7 672.2 296.1 673.6 296.4 675 312.9 676.5 311.8 677.9 293.1 679.4 290.7 680.8 287 682.3 304.5 683.7 291.5 685.2 288.6 686.6 299.6 688.1 281.6 689.5 292.1 690.9 277.2 692.4 274.6 693.8 290.2 695.3 291.7 696.7 280.2 698.2 276.2 699.6 282.2 701.1 262.3 702.5 265.4 703.9 280.1 705.4 278.7 706.8 251.1 708.3 247.9 709.7 266.7 711.2 256.4 712.6 263.2 714.1 258.4 715.5 251.8 717 257.4 718.4 253.2 719.8 236.2 721.3 246.7 722.7 256.1 724.2 252.1 725.6 247.4 727.1 245.1 728.5 248.7 730 233.9 731.4 235.2 732.8 239.9 734.3 243.3 735.7 229.3 737.2 224 738.6 225.1 740.1 227.4 741.5 217 743 227.9 744.4 232.3 745.9 216.7 747.3 229.8 748.7 215.4 750.2 216.9 751.6 226.3 753.1 218.9 754.5 213 756 217.9 757.4 210.3 758.9 215 760.3 202.4 761.7 198 763.2 209 764.6 206.2 766.1 203.6 767.5 194.7 769 211.7 770.4 191.6 771.9 208.9 773.3 192.8 774.8 190.5 776.2 203.6 777.6 203 779.1 196.6 780.5 201.5 782 184.2 783.4 198.3 784.9 192.6 786.3 185 787.8 190.3 789.2 178.7 790.6 191.2 792.1 186.1 793.5 173.1 795 173.5 796.4 173.2 797.9 175.2 799.3 168.5 800.8 168.1 802.2 171.4 803.7 161.7 805.1 172.1 806.5 164.8 808 162.7 809.4 164.8 810.9 155.7 812.3 168.6 813.8 152.9 815.2 159.9 816.7 166.5 818.1 149.9 819.5 159 821 162.7 822.4 161.8 823.9 148.9 825.3 153 826.8 157.7 828.2 151.2 829.7 154.8 831.1 151 832.6 138.8 834 143.6 835.4 152.5 836.9 144.7 838.3 143.7 839.8 141.2 841.2 138.4 842.7 146.5 844.1 141.5 845.6 148.8 847 134.5 848.4 147.1 849.9 133.7 851.3 144.4 852.8 137.6 854.2 141 855.7 135.2 857.1 129.3 858.6 139.8 860 133.6 861.5 125.7 862.9 130.4 864.3 124.1 865.8 126.6 867.2 129.2 868.7 129.2 870.1 121.7 871.6 122.7 873 126.2 874.5 126.4 875.9 130.1 877.3 125 878.8 127 880.2 120.2 881.7 117.6 883.1 119 884.6 115.9 886 120.8 887.5 124.8 888.9 128 890.4 120.9 891.8 127.5 893.2 128.7 894.7 128.6 896.1 132.6 897.6 128.4 899 127.3 900.5 128.9 901.9 123 903.4 123.5 904.8 129.7 906.2 128.7 907.7 126.4 909.1 129.3 910.6 132.8 912 131.7 913.5 130.5 914.9 134.7 916.4 127.1 917.8 136.1 919.3 134 920.7 131.4 922.1 134.4 923.6 137.2 925 134.6 926.5 135.1 927.9 135.9 929.4 138.4 930.8 138.7 932.3 133.8 933.7 132.5 935.1 136.2 936.6 138.4 938 138.8 939.5 141.9 940.9 147.2 942.4 142.1 943.8 144.9 945.3 149.8 946.7 145.2 948.2 148.1 949.6 150.6 951 153.3 952.5 154.9 953.9 151.2 955.4 157.3 956.8 154.3 958.3 153 959.7 154.1 961.2 156.8 962.6 160.2 964 155.9 965.5 157.7 966.9 162.4 968.4 163.3 969.8 160 971.3 159.8 972.7 164.4 974.2 166 975.6 161.9 977.1 165.6 978.5 164 979.9 167.5 981.4 165.3 982.8 166.1 984.3 169.3 985.7 172.4 987.2 167.8 988.6 169 990.1 170.3 991.5 174.6 992.9 172.1 994.4 173.1 995.8 174.8 997.3 177.9 998.7 175.7 1000.2 177.6 1001.6 178.5 1003.1 179.5 1004.5 180.2 1006 182.9 1007.4 180.9 1008.8 183.3 1010.3 182.6 1011.7 187.1 1013.2 186 1014.6 189.7 1016.1 189.2 1017.5 188.3 1019 192.6 1020.4 191 1021.8 193.6 1023.3 195.3 1024.7 193.8 1026.2 195.3 1027.6 197.6 1029.1 198.5 1030.5 199.6 1032 200.7 1033.4 202.2 1034.9 205.8 1036.3 205.1 1037.7 206.3 1039.2 206.8 1040.6 207.9 1042.1 209.4 1043.5 212.7 1045 214 1046.4 213 1047.9 215 1049.3 216.8 1050.7 218 1052.2 218.2 1053.6 219.1 1055.1 222.6 1056.5 221.9 1058 224 1059.4 226.3 1060.9 227.4 1062.3 228 1063.8 230.3 1065.2 232.2 1066.6 232.1 1068.1 234.5 1069.5 234.9 1071 235.9 1072.4 238.8 1073.9 239.6 1075.3 239.3 1076.8 241.7 1078.2 242.6 1079.6 244.3 1081.1 246.3 1082.5 246.7 1084 248.7 1085.4 249.2 1086.9 251.1 1088.3 253.5 1089.8 254.6 1091.2 255.1 1092.7 256.4 1094.1 258.5 1095.5 259.7 1097 262.2 1098.4 262.2 1099.9 265 1101.3 265 1102.8 267.6 1104.2 269.2 1105.7 269.3 1107.1 271.3 1108.5 273.3 1110 274.3 1111.4 275.2 1112.9 277.9 1114.3 278.9 1115.8 279.9 1117.2 281.2 1118.7 283.5 1120.1 284.6 1121.6 287 1123 287.4 1124.4 288.7 1125.9 291.7 1127.3 292.5 1128.8 294.7 1130.2 295.7 1131.7 297.7 1133.1 299.3 1134.6 299.6 1136 301.4 1137.4 302.8 1138.9 305.4 1140.3 306.5 1141.8 308.3 1143.2 309.9 1144.7 311.1 1146.1 312.7 1147.6 314.2 1149 315.3 1150.5 317 1151.9 318.7 1153.3 319.5 1154.8 320.7 1156.2 322.7 1157.7 323.4 1159.1 325.1 1160.6 326.6 1162 328.6 1163.5 329 1164.9 330.8 1166.3 332.2 1167.8 334 1169.2 335.7 1170.7 336.6 1172.1 338.4 1173.6 339.2 1175 340.7 1176.5 341.9 1177.9 343.1 1179.4 345.2 1180.8 346.2 1182.2 347.2 1183.7 348.8 1185.1 350 1186.6 350.9 1188 353 1189.5 354.5 1190.9 355.5 1192.4 356.3 1193.8 357.9 1195.2 358.9 1196.7 360.2 1198.1 361.6 1199.6 363.6 1201 364.8 1202.5 366 1203.9 367.4 1205.4 367.7 1206.8 369.1 1208.3 370.2 1209.7 371.4 1211.1 373.3 1212.6 374.3 1214 375.7 1215.5 377.3 1216.9 377.8 1218.4 379 1219.8 380.9 1221.3 381.2 1222.7 383.4 1224.1 384 1225.6 384.8 1227 386.2 1228.5 387.2 1229.9 389.3 1231.4 389.6 1232.8 390.7 1234.3 392.6 1235.7 393.2 1237.2 394.5 1238.6 396.2 1240 397 1241.5 398.5 1242.9 399.1 1244.4 400 1245.8 401.1 1247.3 403.1 1248.7 403.4 1250.2 404.5 1251.6 405.7 1253 407.2 1254.5 408.5 1255.9 409.3 1257.4 410.6 1258.8 411.5 1260.3 412.9 1261.7 413.8 1263.2 414.4 1264.6 415.6 1266.1 417.4 1267.5 417.9 1268.9 419.2 1270.4 419.7 1271.8 421.3 1273.3 422.3 1274.7 422.8 1276.2 424.7 1277.6 425.1 1279.1 426 1280.5 427.4 1281.9 428.7 1283.4 429.6 1284.8 430.3 1286.3 430.7 1287.7 432.2 1289.2 433.3 1290.6 434.5 1292.1 434.8 1293.5 436 1295 437.2 1296.4 438.2 1297.8 438.4 1299.3 440.3 1300.7 440.4 1302.2 442.2 1303.6 443.1 1305.1 443.7 1306.5 444.6 1308 445.3 1309.4 446.2 1310.8 447.7 1312.3 448.3 1313.7 449 1315.2 449.8 1316.6 451.4 1318.1 452.2 1319.5 453 1321 453.9 1322.4 454.1 1323.9 455.5 1325.3 456.2 1326.7 457.3 1328.2 458 1329.6 458.9 1331.1 459.7 1332.5 460.3 1334 461.3 1335.4 461.4 1336.9 462.6 1338.3 463.9 1339.7 463.9 1341.2 465 1342.6 466.1 1344.1 466.7 1345.5 467.1 1347 468 1348.4 469.3 1349.9 470 1351.3 470.8 1352.8 471.9 1354.2 472.7 1355.6 472.8 1357.1 474.2 1358.5 474.6 1360 475.5 1361.4 475.6 1362.9 476.7 1364.3 478 1365.8 478.8 1367.2 478.9 1368.6 479.5 1370.1 481 1371.5 481.2 1373 482.4 1374.4 482.2 1375.9 483.5 1377.3 483.9 1378.8 484.3 1380.2 485.5 1381.7 486.7 1383.1 486.9 1384.5 487.3 1386 488.5 1387.4 489.4 1388.9 490 1390.3 490.1 1391.8 491.4 1393.2 492.1 1394.7 492.4 1396.1 493.4 1397.5 493.3 1399 494.1 1400.4 495 1401.9 496.2 1403.3 496.6 1404.8 497.3 1406.2 498.1 1407.7 498.6 1409.1 498.6 1410.6 500.1 1412 500.6 1413.4 500.7 1414.9 501.7 1416.3 502.2 1417.8 502.4 1419.2 503.8 1420.7 504 1422.1 504.9 1423.6 505.7 1425 506.5 1426.4 506.6 1427.9 507.2 1429.3 507.3 1430.8 508 1432.2 509.3 1433.7 509.3 1435.1 510.3 1436.6 510.5 1438 511.8 1439.5 511.8 1440.9 513 1442.3 513.2 1443.8 514.1 1445.2 514.3 1446.7 515.6 1448.1 515.6 1449.6 516.1 1451 516.7 1452.5 517.2 1453.9 518.2 1455.3 518.2 1456.8 518.8 1458.2 520.2 1459.7 520 1461.1 521.2 1462.6 521 1464 522.1 1465.5 522.2 1466.9 523 1468.4 523.5 1469.8 524.4 1471.2 524.3 1472.7 525.1 1474.1 526.2 1475.6 526.8 1477 527.4 1478.5 527.7 1479.9 528.4 1481.4 528.6 1482.8 529.1 1484.2 530.1 1485.7 530.2 1487.1 530.5 1488.6 531.9 1490 531.6 1491.5 532.8 1492.9 532.7 1494.4 534 1495.8 534.3 1497.3 535.1 1498.7 535.3 1500.1 536.1 1501.6 536.2 1503 537.2 1504.5 537.2 1505.9 538.3 1507.4 538.5 1508.8 539.3 1510.3 538.9 1511.7 539.8 1513.1 540.8 1514.6 540.7 1516 541.5 1517.5 541.9 1518.9 542 1520.4 542.5 1521.8 543.5 1523.3 543.9 1524.7 544.9 1526.2 544.8 1527.6 545.2 1529 545.6 1530.5 546.4 1531.9 547.5 1533.4 547.9 1534.8 548.1 1536.3 548.5 1537.7 549.1 1539.2 549.8 1540.6 549.6 1542 551 1543.5 551.4 1544.9 551.4 1546.4 551.8 1547.8 552.5 1549.3 552.9 1550.7 553.2 1552.2 553.5 1553.6 554.6 1555.1 555.3 1556.5 555.5 1557.9 555.6 1559.4 556.2 1560.8 556.5 1562.3 557.7 1563.7 557.5 1565.2 558.1 1566.6 558.8 1568.1 559.4 1569.5 559.6 1570.9 559.7 1572.4 560.5 1573.8 561.3 1575.3 561.3 1576.7 561.9 1578.2 562.2 1579.6 562.7 1581.1 563.2 1582.5 563.8 1584 564.6 1585.4 565 1586.8 564.9 1588.3 565.4 1589.7 565.9 1591.2 566.7 1592.6 567.2 1594.1 567.7 1595.5 567.6 1597 568.1 1598.4 569.3 1599.8 569.3 1601.3 570 1602.7 569.9 1604.2 570.7 1605.6 570.8 1607.1 571.5 1608.5 571.9 1610 572.8 1611.4 572.7 1612.9 573.5 1614.3 573.5 1615.7 574.3 1617.2 575 1618.6 574.7 1620.1 575.4 1621.5 576.4 1623 576.7 1624.4 577.2 1625.9 577.3 1627.3 577.5 1628.7 577.7 1630.2 578.9 1631.6 578.5 1633.1 579.9 1634.5 580.3 1636 580.7 1637.4 581 1638.9 581.3 1640.3 581.4 1641.8 582.3 1643.2 582.4 1644.6 582.8 1646.1 582.7 1647.5 583.1 1649 584.2 1650.4 584 1651.9 585.1 1653.3 585.2 1654.8 585.2 1656.2 586.2 1657.6 586.9 1659.1 587.6 1660.5 587 1662 587.6 1663.4 588.2 1664.9 588.6 1666.3 588.7 1667.8 589.2 1669.2 589.3 1670.7 590.3 1672.1 591.3 1673.5 590.5 1675 591.8 1676.4 591.9 1677.9 592 1679.3 592.4 1680.8 593.8 1682.2 592.9 1683.7 594 1685.1 594.3 1686.5 595.3 1688 594.7 1689.4 594.8 1690.9 596.4 1692.3 596 1693.8 596.5 1695.2 596.5 1696.7 597 1698.1 597.4 1699.6 598.5 1701 598.1 1702.4 598.6 1703.9 599.3 1705.3 599.6 1706.8 599.5 1708.2 601.3 1709.7 601.5 1711.1 601.8 1712.6 602.1 1714 602 1715.4 602.8 1716.9 603.4 1718.3 603.6 1719.8 604.3 1721.2 604.5 1722.7 604.8 1724.1 605.5 1725.6 605.6 1727 605.3 1728.5 605.9 1729.9 605.6 1731.3 606.5 1732.8 607.3 1734.2 607 1735.7 607.9 1737.1 607.9 1738.6 608.1 1740 608.7 1741.5 609.4 1742.9 609.6 1744.3 609.9 1745.8 610.9 1747.2 611 1748.7 611.3 1750.1 610.8 1751.6 611 1753 612 1754.5 611.9 1755.9 613.2 1757.4 613.9 1758.8 614.1 1760.2 613.9 1761.7 615 1763.1 615.1 1764.6 615.2 1766 615.7 1767.5 615.2 1768.9 615.3 1770.4 617.3 1771.8 617.8 1773.2 617.3 1774.7 617.8 1776.1 618.5 1777.6 617.6 1779 619.1 1780.5 619.6 1781.9 618.9 1783.4 619.8 1784.8 620.6 1786.3 621.3 1787.7 620.6 1789.1 620.4 1790.6 621.9 1792 622 1793.5 622.1 1794.9 622.3 1796.4 621.9 1797.8 624 1799.3 623.3 1800.7 622.9 1802.1 623.4 1803.6 624.7 1805 623.9 1806.5 625.7 1807.9 626 1809.4 624.9 1810.8 626.5 1812.3 626.2 1813.7 626.5 1815.2 628 1816.6 626.7 1818 627.7 1819.5 629.2 1820.9 627.7 1822.4 629.1 1823.8 628.7 1825.3 629 1826.7 629.5 1828.2 630.7 1829.6 630.4 1831 631.3 1832.5 632.1 1833.9 632.4 1835.4 631.9 1836.8 631.6 1838.3 632.8 1839.7 631.9 1841.2 632.8 1842.6 633 1844.1 634.8 1845.5 634.2 1846.9 634.2 1848.4 634.3 1849.8 635.1 1851.3 635.5 1852.7 636.5 1854.2 636 1855.6 637.4 1857.1 635.6 1858.5 637.2 1859.9 637.1 1861.4 637.1 1862.8 637.9 1864.3 639.4 1865.7 638.3 1867.2 639.9 1868.6 639.2 1870.1 639.2 1871.5 638.8 1873 639.1 1874.4 641.3 1875.8 639.8 1877.3 640.5 1878.7 641 1880.2 640.6 1881.6 641.2 1883.1 641.6 1884.5 642.4 1886 641.9 1887.4 643.4 1888.8 643.4 1890.3 644.2 1891.7 643.3 1893.2 643.7 1894.6 644.5 1896.1 644.7 1897.5 644.8 1899 644.6 1900.4 645.8 1901.9 645.8 1903.3 646.1 1904.7 647.5 1906.2 645.9 1907.6 646.5 1909.1 648.8 1910.5 647.5 1912 647.1 1913.4 647.8 1914.9 647.7 1916.3 650.3 1917.7 648.9 1919.2 648.8 1920.6 648.9 1922.1 651.1 1923.5 650.7 1925 651.9 1926.4 650.8 1927.9 651.2 1929.3 651.7 1930.8 652.3 1932.2 652.3 1933.6 651.9 1935.1 653 1936.5 654.3 1938 653.5 1939.4 653.5 1940.9 652.8 1942.3 655.6 1943.8 653.2 1945.2 653.4 1946.6 654.6 1948.1 656.5 1949.5 655.2 1951 657.1 1952.4 657.2 1953.9 656 1955.3 656.9 1956.8 656.7 1958.2 658.3 1959.7 658.1 1961.1 658.4 1962.5 658.4 1964 658.7 1965.4 659.2 1966.9 660 1968.3 658.6 1969.8 658.5 1971.2 659.3 1972.7 660.8 1974.1 661.3 1975.5 660.3 1977 661 1978.4 662 1979.9 662.1 1981.3 662.4 1982.8 662 1984.2 662.6 1985.7 661.3 1987.1 662.8 1988.6 661.5 1990 663.1"/>
</g>
<path d="M397 1290V1278L399 1276H402L404 1278V1290ZM542 1290V1264L544 1262H547L549 1264V1290ZM686 1290V1278L688 1276H691L693 1278V1290ZM830 1290V1264L832 1262H835L837 1264V1290ZM975 1290V1278L977 1276H980L982 1278V1290ZM1120 1290V1264L1122 1262H1125L1127 1264V1290ZM1264 1290V1278L1266 1276H1269L1271 1278V1290ZM1408 1290V1264L1410 1262H1413L1415 1264V1290ZM1553 1290V1278L1555 1276H1558L1560 1278V1290ZM1698 1290V1264L1700 1262H1703L1705 1264V1290ZM1842 1290V1278L1844 1276H1847L1849 1278V1290Z" fill="#000" shape-rendering="crispEdges"/>
<text class="tick" transform="translate(256.1 1378.4) scale(0.955 1)">200</text>
<text class="tick" transform="translate(545.1 1378.4) scale(0.955 1)">300</text>
<text class="tick" transform="translate(834.1 1378.4) scale(0.955 1)">400</text>
<text class="tick" transform="translate(1123.2 1378.4) scale(0.955 1)">500</text>
<text class="tick" transform="translate(1412.2 1378.4) scale(0.955 1)">600</text>
<text class="tick" transform="translate(1701.2 1378.4) scale(0.955 1)">700</text>
<text class="tick" transform="translate(1990.2 1378.4) scale(0.955 1)">800</text>
<text class="ttl" transform="translate(1124.2 1518) scale(0.955 1)">Wavelength (nm)</text>
<text class="ttl yt" transform="translate(130.7 677.3) rotate(-90)">Absorbance (a.u.)</text>
<path d="M1369 83H1518.5" stroke="#f0f" stroke-width="6" stroke-linecap="round" fill="none" shape-rendering="crispEdges"/>
<text class="leg" fill="#f0f" transform="translate(1537 105.8) scale(0.94 1)">Ag/Cotton-10</text>
<path d="M1369 174.7H1518.5" stroke="#008080" stroke-width="6" stroke-linecap="round" fill="none" shape-rendering="crispEdges"/>
<text class="leg" fill="#008080" transform="translate(1537 197.3) scale(0.94 1)">Ag/Cotton-5</text>
<path d="M1369 266.3H1518.5" stroke="#00f" stroke-width="6" stroke-linecap="round" fill="none" shape-rendering="crispEdges"/>
<text class="leg" fill="#00f" transform="translate(1537 288.7) scale(0.94 1)">Ag/Cotton-2</text>
<path d="M1369 358H1518.5" stroke="#f00" stroke-width="6" stroke-linecap="round" fill="none" shape-rendering="crispEdges"/>
<text class="leg" fill="#f00" transform="translate(1537 380.2) scale(0.94 1)">Ag/Cotton-1</text>
<path d="M1369 449.5H1518.5" stroke="#000" stroke-width="7" stroke-linecap="round" fill="none" shape-rendering="crispEdges"/>
<text class="leg" fill="#000" transform="translate(1538.5 471.7) scale(0.94 1)">Blank cotton</text>
<path d="M1313.5 120V369.5" stroke="#000" stroke-width="7" stroke-linecap="round" fill="none" shape-rendering="crispEdges"/>
<path d="M1311.2 84H1315.8L1317 86L1324.1 120.5V124.3L1323.5 124.8H1302.6L1302 124.3V120.5L1310 86Z" fill="#000" shape-rendering="crispEdges"/>
</svg>
</body>
</html>
